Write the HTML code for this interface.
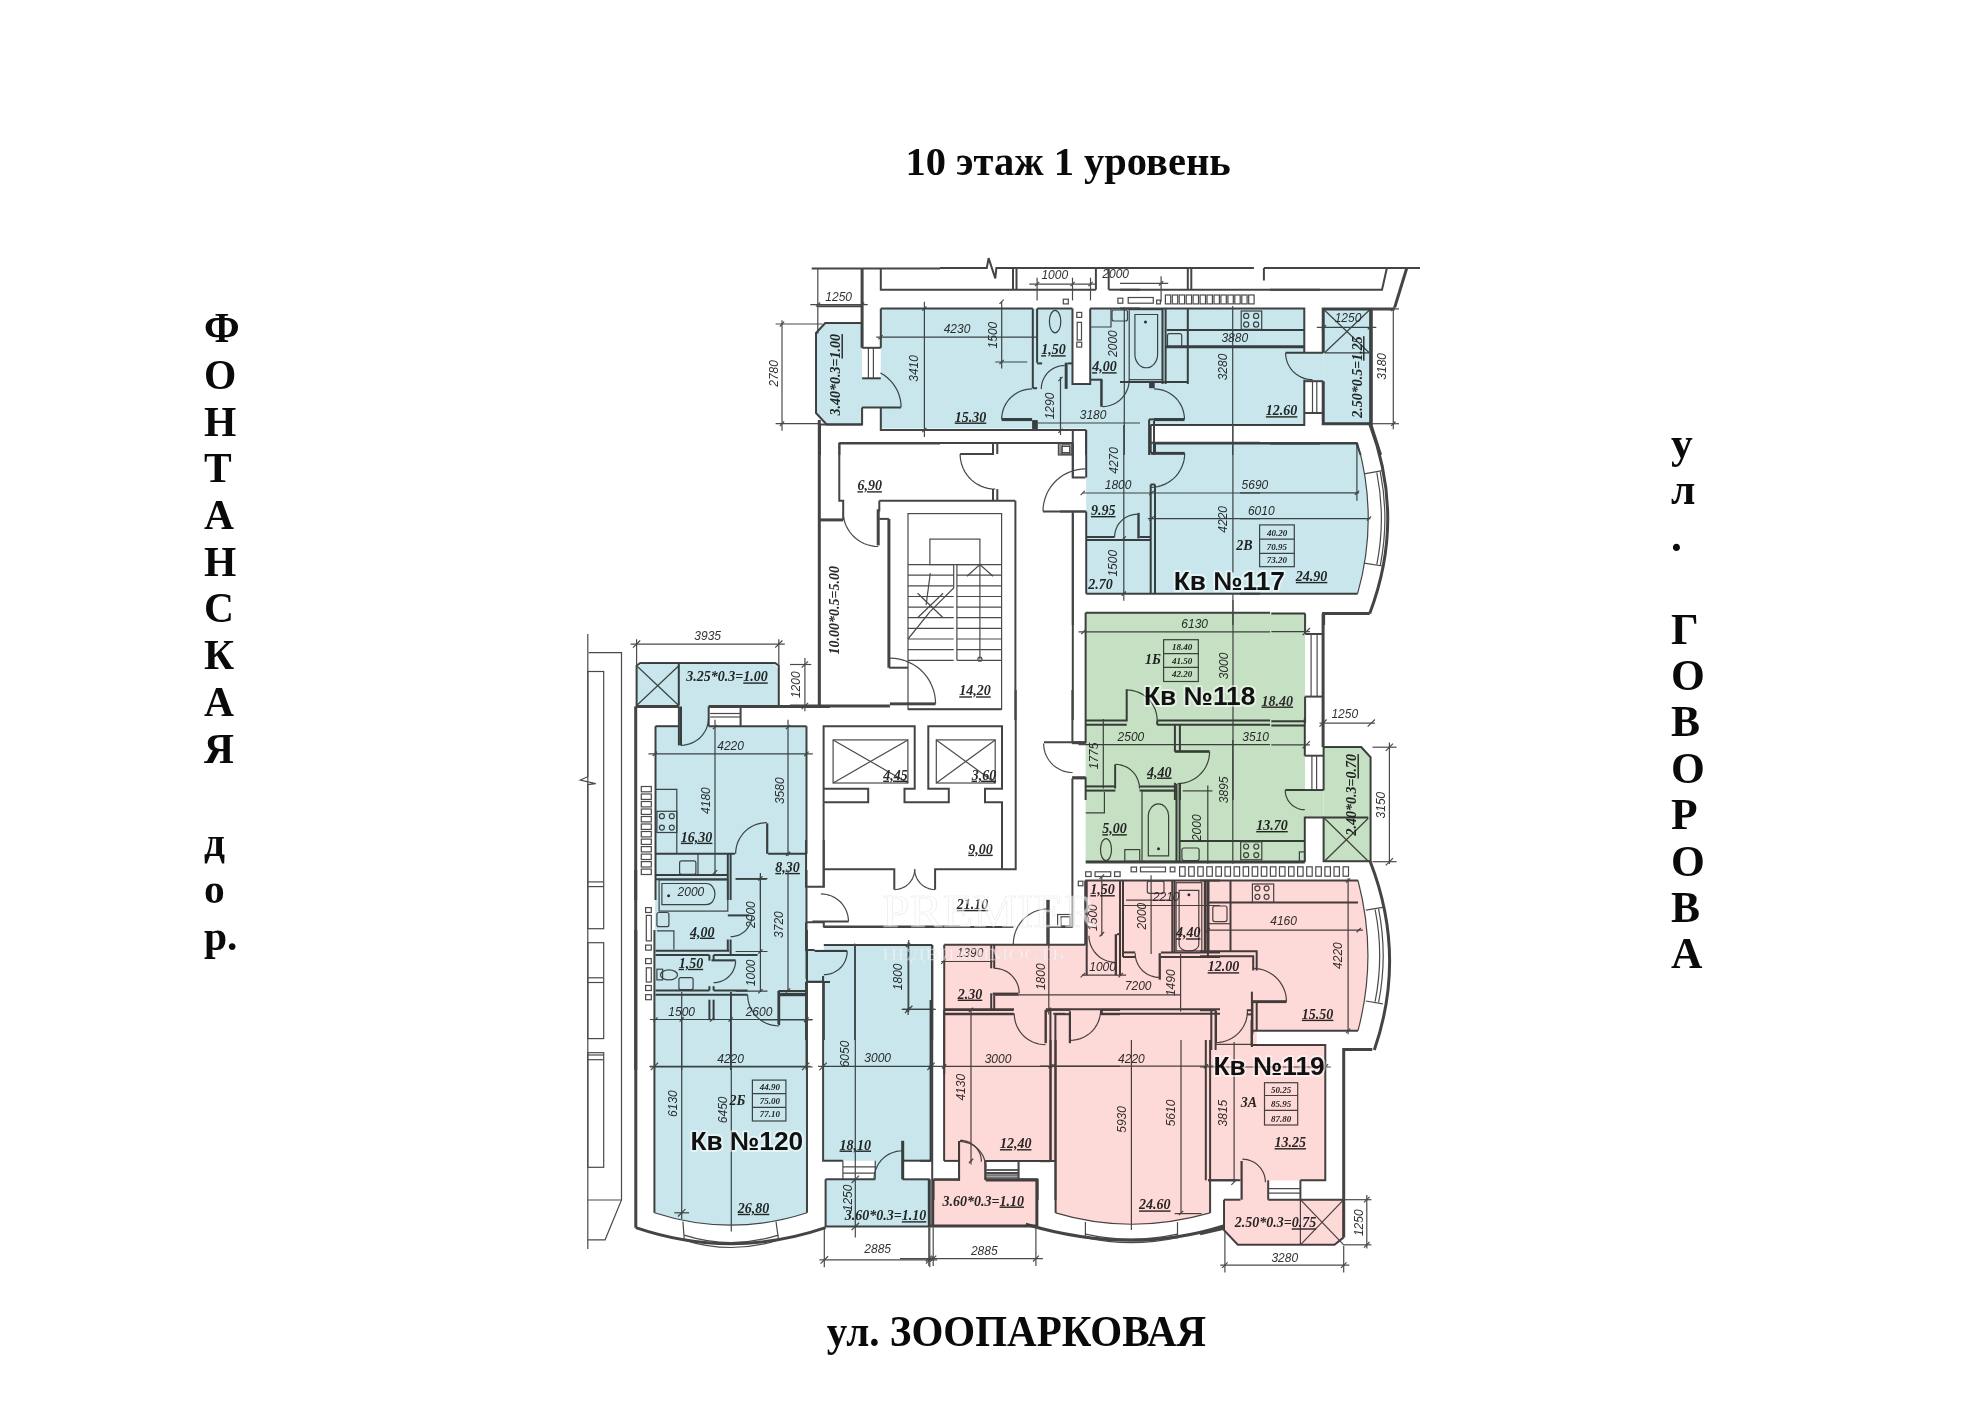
<!DOCTYPE html>
<html><head><meta charset="utf-8">
<style>
html,body{margin:0;padding:0;background:#fff;}
body{width:1980px;height:1411px;overflow:hidden;position:relative;}
svg{position:absolute;left:0;top:0;}
.ttl{font-family:"Liberation Serif",serif;font-weight:bold;fill:#0a0a0a;}
.w{stroke:#444;stroke-width:3;fill:none;}
.w2{stroke:#444;stroke-width:2;fill:none;}
.t{stroke:#4a4a4a;stroke-width:1.2;fill:none;}
.wf{fill:#444;}
.bl{fill:#c8e6eb;}
.gr{fill:#c6e0c4;}
.pk{fill:#fdd9d8;}
.n{font-family:"Liberation Sans",sans-serif;font-style:italic;font-size:12px;fill:#333;}
.a{font-family:"Liberation Serif",serif;font-style:italic;font-weight:bold;font-size:14px;fill:#2a2a2a;}
.bx{font-family:"Liberation Serif",serif;font-style:italic;font-weight:bold;font-size:9px;fill:#2a2a2a;}
.kv{font-family:"Liberation Sans",sans-serif;font-weight:bold;font-size:26.3px;fill:#111;paint-order:stroke;stroke:rgba(255,255,255,0.5);stroke-width:4px;stroke-linejoin:round;}
</style></head>
<body>
<svg width="1980" height="1411" viewBox="0 0 1980 1411">
<!-- TITLES -->
<text class="ttl" x="1068.1" y="175" font-size="40.5" text-anchor="middle">10 этаж 1 уровень</text>
<text class="ttl" transform="translate(1016.5,1345.7) scale(1,1.08)" x="0" y="0" font-size="41" text-anchor="middle">ул. ЗООПАРКОВАЯ</text>
<g class="ttl" font-size="41.5" text-anchor="start">
<text x="204" y="342">Ф</text><text x="204" y="389">О</text><text x="204" y="435.5">Н</text><text x="204" y="482.3">Т</text>
<text x="204" y="529">А</text><text x="204" y="575.7">Н</text><text x="204" y="622.4">С</text><text x="204" y="669">К</text>
<text x="204" y="715.8">А</text><text x="204" y="762.5">Я</text><text x="204" y="856">д</text><text x="204" y="902.8">о</text><text x="204" y="949.5">р.</text>
</g>
<g class="ttl" font-size="43.5" text-anchor="start">
<text x="1671" y="457.8">у</text><text x="1671" y="504.2">л</text><text x="1671" y="550.6">.</text>
<text x="1671" y="643.5">Г</text><text x="1671" y="689.9">О</text><text x="1671" y="736.3">В</text><text x="1671" y="782.7">О</text>
<text x="1671" y="829.1">Р</text><text x="1671" y="875.5">О</text><text x="1671" y="921.9">В</text><text x="1671" y="968.3">А</text>
</g>

<!-- 01_top_left.py -->
<polyline class="w2" points="811.7,268.5 940.0,268.5"/>
<polyline class="t" points="817.8,268.5 817.8,333.7"/>
<polyline class="w" points="862.1,268.5 862.1,347.8"/>
<polyline class="w2" points="862.1,347.8 880.8,347.8"/>
<polyline class="w2" points="862.1,378.3 880.8,378.3"/>
<polyline class="t" points="868.4,347.8 868.4,378.3"/>
<polyline class="t" points="873.4,347.8 873.4,378.3"/>
<polyline class="w2" points="862.1,407.4 862.1,424.4 826.6,424.4 816.0,413.0 816.0,333.0 825.2,323.0 862.1,323.0"/>
<polyline class="w2" points="862.1,407.4 901.0,407.4"/>
<polyline class="t" points="901.1,407.4 900.9,403.2 900.2,399.0 899.1,395.0 897.5,391.0 895.5,387.3 893.2,383.8 890.4,380.6 887.4,377.7 884.0,375.1 880.4,373.0"/>
<polyline class="w" points="819.5,424.4 819.5,455.0"/>
<polyline class="w2" points="819.5,424.4 862.1,424.4"/>
<polyline class="t" points="782.0,320.2 782.0,430.8"/>
<polyline class="t" points="775.6,324.0 822.4,324.0"/>
<polyline class="t" points="775.6,423.7 819.5,423.7"/>
<polyline class="t" points="779.8,326.6 784.1,321.6"/>
<polyline class="t" points="779.8,426.2 784.1,421.3"/>
<text class="n" x="778.1" y="373.4" text-anchor="middle" transform="rotate(-90 778.1 373.4)">2780</text>
<polyline class="t" points="810.3,304.6 867.7,304.6"/>
<polyline class="w2" points="817.8,306.3 862.1,306.3"/>
<polyline class="t" points="816.0,306.7 820.2,302.5"/>
<polyline class="t" points="859.9,306.7 864.2,302.5"/>
<text class="n" x="838.7" y="300.6" text-anchor="middle">1250</text>
<polyline class="w2" points="880.8,268.5 880.8,289.7 940.0,289.7"/>
<polyline class="w2" points="880.8,308.6 880.8,347.8"/>
<polyline class="w2" points="880.8,407.4 880.8,430.1 940.0,430.1"/>
<polyline class="w2" points="880.8,308.6 940.0,308.6"/>
<polyline class="w2" points="839.4,455.0 839.4,443.5 940.0,443.5"/>
<polyline class="t" points="924.4,301.8 924.4,437.1"/>
<polyline class="t" points="922.3,432.2 926.5,427.9"/>
<polyline class="t" points="922.3,310.7 926.5,306.5"/>
<text class="n" x="918.5" y="368.4" text-anchor="middle" transform="rotate(-90 918.5 368.4)">3410</text>
<polyline class="t" points="876.2,337.2 940.0,337.2"/>
<polyline class="t" points="878.4,339.3 882.6,335.1"/>
<text class="a" x="840.5" y="374.8" text-anchor="middle" transform="rotate(-90 840.5 374.8)">3.40*0.3=<tspan text-decoration="underline">1.00</tspan></text>
<!-- 02_top_mid.py -->
<polyline class="w2" points="940.0,268.0 986.8,268.0 988.6,258.1 995.3,278.4 996.4,268.0 1140.0,268.0"/>
<polyline class="w2" points="1013.0,268.0 1013.0,289.7"/>
<polyline class="w2" points="1016.5,268.0 1016.5,289.7"/>
<polyline class="w2" points="940.0,289.7 1095.9,289.7"/>
<polyline class="w2" points="1095.9,268.0 1095.9,289.7"/>
<polyline class="w2" points="1108.7,268.0 1108.7,289.7"/>
<polyline class="w2" points="1108.7,289.7 1140.0,289.7"/>
<polyline class="t" points="1029.3,284.1 1095.9,284.1"/>
<polyline class="t" points="1037.1,277.7 1037.1,300.4"/>
<polyline class="t" points="1072.5,277.7 1072.5,300.4"/>
<polyline class="t" points="1090.5,277.7 1090.5,300.4"/>
<polyline class="t" points="1035.0,286.2 1039.2,281.9"/>
<polyline class="t" points="1070.4,286.2 1074.7,281.9"/>
<polyline class="t" points="1088.4,286.2 1092.7,281.9"/>
<text class="n" x="1054.8" y="279.4" text-anchor="middle">1000</text>
<rect class="t" x="1063.3" y="299.2" width="5.0" height="4.7"/>
<polyline class="w2" points="1032.8,308.6 1032.8,388.2"/>
<polyline class="w2" points="1037.1,308.6 1037.1,362.7"/>
<polyline class="w2" points="1032.8,388.2 1037.1,388.2"/>
<polyline class="w2" points="1037.1,308.6 1072.5,308.6"/>
<polyline class="w2" points="1072.5,308.6 1072.5,384.0 1090.2,384.0 1090.2,308.6"/>
<rect class="t" x="1076.8" y="312.4" width="4.9" height="5.0"/>
<rect class="t" x="1077.2" y="322.3" width="4.3" height="17.7"/>
<rect class="t" x="1076.8" y="342.2" width="4.9" height="4.9"/>
<polyline class="t" points="1041.3,388.9 1041.4,386.5 1041.8,384.0 1042.4,381.7 1043.3,379.4 1044.4,377.2 1045.8,375.1 1047.3,373.2 1049.0,371.5 1050.9,370.0 1053.0,368.6 1055.2,367.5 1057.5,366.6 1059.8,366.0 1062.3,365.6 1064.7,365.5"/>
<rect class="wf" x="1064.7" y="362.7" width="2.9" height="26.2"/>
<polyline class="w2" points="1037.1,363.4 1042.1,363.4"/>
<polyline class="w2" points="1067.6,363.4 1072.5,363.4"/>
<ellipse class="t" cx="1055.1" cy="321.6" rx="5.7" ry="11.3"/>
<polyline class="t" points="1001.6,419.4 1001.8,416.2 1002.3,413.1 1003.1,410.0 1004.2,407.0 1005.7,404.1 1007.4,401.5 1009.4,399.0 1011.7,396.7 1014.2,394.7 1016.8,393.0 1019.7,391.5 1022.7,390.4 1025.8,389.6 1028.9,389.1 1032.1,388.9"/>
<rect class="wf" x="1001.7" y="418.0" width="30.4" height="3.1"/>
<rect class="wf" x="1032.1" y="420.1" width="5.7" height="10.0"/>
<polyline class="w2" points="1086.0,430.1 1086.0,455.0"/>
<polyline class="t" points="1037.8,423.0 1140.0,423.0"/>
<polyline class="t" points="1001.7,301.8 1001.7,368.4"/>
<polyline class="t" points="995.3,362.0 1027.2,362.0"/>
<polyline class="t" points="999.5,303.9 1003.8,299.6"/>
<polyline class="t" points="999.5,364.1 1003.8,359.9"/>
<text class="n" x="997.4" y="335.1" text-anchor="middle" transform="rotate(-90 997.4 335.1)">1500</text>
<polyline class="t" points="1060.5,376.9 1060.5,435.0"/>
<polyline class="t" points="1058.4,432.9 1062.6,428.6"/>
<polyline class="t" points="1058.4,381.2 1062.6,376.9"/>
<text class="n" x="1053.8" y="406.0" text-anchor="middle" transform="rotate(-90 1053.8 406.0)">1290</text>
<text class="n" x="1093.1" y="419.4" text-anchor="middle">3180</text>
<polyline class="t" points="1124.3,307.4 1124.3,455.0"/>
<text class="n" x="957.0" y="332.7" text-anchor="middle">4230</text>
<text class="a" x="1053.4" y="354.2" text-anchor="middle"><tspan text-decoration="underline">1,50</tspan></text>
<text class="a" x="1104.4" y="371.2" text-anchor="middle"><tspan text-decoration="underline">4,00</tspan></text>
<text class="a" x="970.5" y="421.5" text-anchor="middle"><tspan text-decoration="underline">15.30</tspan></text>
<text class="n" x="1117.2" y="343.6" text-anchor="middle" transform="rotate(-90 1117.2 343.6)">2000</text>
<polyline class="w2" points="1090.2,379.7 1102.3,379.7"/>
<rect class="wf" x="1100.2" y="379.7" width="2.5" height="27.0"/>
<polyline class="t" points="1102.3,406.6 1105.1,406.5 1107.9,406.0 1110.6,405.3 1113.2,404.3 1115.8,403.0 1118.1,401.5 1120.3,399.7 1122.3,397.7 1124.1,395.5 1125.6,393.1 1126.9,390.6 1127.9,388.0 1128.6,385.3 1129.1,382.5 1129.2,379.7"/>
<rect class="t" x="1058.4" y="443.5" width="14.1" height="11.5"/>
<rect class="t" x="1061.9" y="446.4" width="7.8" height="7.7"/>
<polyline class="w2" points="1072.5,443.5 1072.5,455.0"/>
<polyline class="w2" points="940.0,308.6 1032.8,308.6"/>
<polyline class="w2" points="940.0,430.1 1086.0,430.1"/>
<polyline class="t" points="940.0,337.2 1037.8,337.2"/>
<polyline class="w2" points="1090.2,308.6 1140.0,308.6"/>
<!-- 03_top_right.py -->
<polyline class="w2" points="1120.0,268.0 1253.9,268.0"/>
<polyline class="w2" points="1263.9,268.0 1320.0,268.0"/>
<polyline class="w2" points="1263.9,268.0 1263.9,280.5"/>
<polyline class="w2" points="1187.8,268.0 1187.8,289.7"/>
<polyline class="w2" points="1191.3,268.0 1191.3,289.7"/>
<polyline class="w2" points="1120.0,289.7 1320.0,289.7"/>
<polyline class="t" points="1120.0,283.3 1168.2,283.3"/>
<polyline class="t" points="1161.1,276.3 1161.1,301.8"/>
<polyline class="t" points="1159.0,285.5 1163.2,281.2"/>
<text class="n" x="1115.7" y="278.4" text-anchor="middle">2000</text>
<rect class="t" x="1165.4" y="295.0" width="5.3" height="8.9"/>
<rect class="t" x="1172.3" y="295.0" width="5.4" height="8.9"/>
<rect class="t" x="1179.2" y="295.0" width="5.4" height="8.9"/>
<rect class="t" x="1186.2" y="295.0" width="5.4" height="8.9"/>
<rect class="t" x="1193.1" y="295.0" width="5.4" height="8.9"/>
<rect class="t" x="1200.1" y="295.0" width="5.4" height="8.9"/>
<rect class="t" x="1207.0" y="295.0" width="5.4" height="8.9"/>
<rect class="t" x="1214.0" y="295.0" width="5.4" height="8.9"/>
<rect class="t" x="1220.9" y="295.0" width="5.4" height="8.9"/>
<rect class="t" x="1227.9" y="295.0" width="5.4" height="8.9"/>
<rect class="t" x="1234.8" y="295.0" width="5.4" height="8.9"/>
<rect class="t" x="1241.8" y="295.0" width="5.3" height="8.9"/>
<rect class="t" x="1248.7" y="295.0" width="5.4" height="8.9"/>
<rect class="t" x="1128.2" y="297.5" width="25.1" height="5.7"/>
<rect class="t" x="1117.9" y="298.2" width="4.9" height="5.0"/>
<rect class="t" x="1156.6" y="300.1" width="3.8" height="3.8"/>
<polyline class="w2" points="1120.0,308.6 1304.3,308.6 1304.3,352.8"/>
<polyline class="w2" points="1304.3,379.7 1304.3,425.1 1150.5,425.1"/>
<polyline class="w2" points="1166.8,330.1 1304.3,330.1"/>
<polyline class="w" points="1165.4,346.8 1304.3,346.8"/>
<polyline class="w2" points="1187.8,308.6 1187.8,384.0"/>
<rect class="t" x="1241.2" y="311.0" width="20.5" height="18.4"/>
<circle class="t" cx="1246.2" cy="315.9" r="2.6"/>
<circle class="t" cx="1256.1" cy="315.9" r="2.6"/>
<circle class="t" cx="1246.2" cy="324.5" r="2.6"/>
<circle class="t" cx="1256.1" cy="324.5" r="2.6"/>
<rect class="t" x="1167.5" y="333.7" width="14.2" height="13.5" rx="2"/>
<rect class="t" x="1129.2" y="309.6" width="33.3" height="70.1"/>
<path class="t" d="M1134.9,314.5 L1157.6,314.5 L1157.6,354.2 A11.3,13.5 0 0 1 1134.9,354.2 Z"/>
<circle cx="1145.5" cy="321.9" r="1.5" fill="#333"/>
<polyline class="w2" points="1162.5,308.6 1162.5,384.0"/>
<polyline class="w2" points="1165.6,308.6 1165.6,384.0"/>
<polyline class="w2" points="1120.0,381.9 1187.8,381.9"/>
<rect class="wf" x="1149.1" y="381.9" width="5.6" height="6.3"/>
<polyline class="t" points="1154.0,388.9 1157.2,389.1 1160.3,389.6 1163.4,390.4 1166.4,391.5 1169.2,393.0 1171.9,394.7 1174.4,396.7 1176.7,399.0 1178.7,401.5 1180.4,404.1 1181.9,407.0 1183.0,410.0 1183.8,413.1 1184.3,416.2 1184.5,419.4"/>
<rect class="wf" x="1154.0" y="418.0" width="30.5" height="3.1"/>
<polyline class="w2" points="1149.1,419.4 1149.1,455.0"/>
<polyline class="w2" points="1154.0,421.1 1154.0,455.0"/>
<polyline class="w2" points="1149.1,419.4 1154.0,419.4"/>
<polyline class="w2" points="1154.0,443.5 1320.0,443.5"/>
<polyline class="t" points="1232.7,306.0 1232.7,455.0"/>
<text class="n" x="1234.8" y="341.7" text-anchor="middle">3880</text>
<text class="n" x="1226.6" y="367.0" text-anchor="middle" transform="rotate(-90 1226.6 367.0)">3280</text>
<text class="a" x="1281.6" y="415.2" text-anchor="middle"><tspan text-decoration="underline">12.60</tspan></text>
<rect class="t" x="1112" y="310" width="15.5" height="11" rx="2"/>
<polyline class="t" points="1091,327 1111,327 1111,309"/>
<!-- 04_top_far.py -->
<polyline class="w2" points="1270.0,289.7 1382.0,289.7 1386.9,268.0"/>
<polyline class="w" points="1406.8,268.0 1394.7,307.4"/>
<polyline class="w" points="1394.7,308.9 1323.2,308.9 1323.2,352.8"/>
<polyline class="w" points="1323.2,381.2 1323.2,423.7 1371.3,423.7 1371.3,308.9"/>
<rect class="wf" x="1369.2" y="308.9" width="2.6" height="114.8"/>
<polyline class="t" points="1324.6,310.3 1369.2,352.8"/>
<polyline class="t" points="1369.2,310.3 1324.6,352.8"/>
<polyline class="t" points="1324.6,352.8 1369.2,352.8"/>
<polyline class="w2" points="1285.6,352.8 1323.2,352.8"/>
<polyline class="t" points="1285.6,352.8 1285.7,355.6 1286.2,358.4 1286.9,361.1 1287.9,363.7 1289.2,366.2 1290.7,368.6 1292.5,370.8 1294.5,372.8 1296.7,374.6 1299.0,376.1 1301.6,377.4 1304.2,378.4 1306.9,379.1 1309.7,379.6 1312.5,379.7"/>
<polyline class="t" points="1312.5,381.2 1312.5,413.0"/>
<polyline class="t" points="1316.8,381.2 1316.8,413.0"/>
<polyline class="w2" points="1304.7,381.2 1323.2,381.2"/>
<polyline class="w2" points="1304.7,413.0 1323.2,413.0"/>
<polyline class="t" points="1316.8,327.3 1376.3,327.3"/>
<polyline class="t" points="1321.7,329.4 1326.0,325.2"/>
<polyline class="t" points="1367.8,329.4 1372.1,325.2"/>
<text class="n" x="1348.0" y="321.6" text-anchor="middle">1250</text>
<text class="a" x="1362.1" y="376.9" text-anchor="middle" transform="rotate(-90 1362.1 376.9)">2.50*0.5=<tspan text-decoration="underline">1.25</tspan></text>
<polyline class="t" points="1393.3,307.4 1393.3,429.3"/>
<polyline class="t" points="1371.3,308.9 1399.0,308.9"/>
<polyline class="t" points="1371.3,423.7 1399.0,423.7"/>
<polyline class="t" points="1391.2,311.0 1395.4,306.7"/>
<polyline class="t" points="1391.2,425.8 1395.4,421.5"/>
<text class="n" x="1385.9" y="366.3" text-anchor="middle" transform="rotate(-90 1385.9 366.3)">3180</text>
<polyline class="w" points="1370.6,423.7 1380.6,455.0"/>
<polyline class="w2" points="1270.0,443.5 1356.5,443.5 1360.7,455.0"/>
<polyline class="w2" points="1270.0,268.0 1420.0,268.0"/>
<!-- 05_mid_top.py -->
<polyline class="w2" points="1086.2,430.0 1086.2,477.4"/>
<polyline class="w2" points="1072.8,430.0 1086.2,430.0"/>
<polyline class="w2" points="1072.8,430.0 1072.8,477.4"/>
<polyline class="w2" points="1060.0,511.5 1086.2,511.5"/>
<polyline class="w2" points="1072.8,511.5 1072.8,625.0"/>
<polyline class="w2" points="1086.2,511.5 1086.2,593.7"/>
<rect class="t" x="1060.0" y="442.7" width="12.0" height="11.4"/>
<rect class="t" x="1062.1" y="444.8" width="7.8" height="7.8"/>
<polyline class="w2" points="1150.7,425.0 1150.7,453.3"/>
<polyline class="w2" points="1155.0,442.7 1155.0,453.3"/>
<polyline class="w2" points="1150.7,442.7 1260.0,442.7"/>
<rect class="wf" x="1150.7" y="451.9" width="34.0" height="2.9"/>
<polyline class="t" points="1184.7,453.3 1184.5,456.9 1184.0,460.4 1183.0,463.8 1181.8,467.1 1180.1,470.3 1178.2,473.3 1176.0,476.1 1173.5,478.6 1170.7,480.8 1167.7,482.7 1164.5,484.4 1161.2,485.6 1157.8,486.6 1154.3,487.1 1150.7,487.3"/>
<polyline class="w2" points="1150.7,484.5 1150.7,593.7"/>
<polyline class="w2" points="1155.0,484.5 1155.0,593.7"/>
<polyline class="w2" points="1150.7,484.5 1155.0,484.5"/>
<polyline class="t" points="1082.7,493.0 1260.0,493.0"/>
<polyline class="t" points="1147.9,518.6 1260.0,518.6"/>
<polyline class="t" points="1080.6,495.2 1084.8,490.9"/>
<polyline class="t" points="1149.3,495.2 1153.6,490.9"/>
<polyline class="t" points="1149.3,520.7 1153.6,516.4"/>
<polyline class="w2" points="1086.2,537.0 1114.6,537.0"/>
<polyline class="w2" points="1086.2,540.1 1150.7,540.1"/>
<polyline class="w2" points="1139.4,537.0 1150.7,537.0"/>
<rect class="wf" x="1137.3" y="512.9" width="2.4" height="25.5"/>
<polyline class="t" points="1114.6,537.0 1114.7,534.6 1115.1,532.3 1115.7,530.0 1116.6,527.8 1117.6,525.6 1118.9,523.7 1120.4,521.8 1122.1,520.1 1124.0,518.6 1126.0,517.3 1128.1,516.3 1130.3,515.4 1132.6,514.8 1134.9,514.4 1137.3,514.3"/>
<polyline class="w2" points="1086.2,593.7 1260.0,593.7"/>
<polyline class="t" points="1123.8,425.0 1123.8,600.8"/>
<polyline class="t" points="1121.7,540.5 1125.9,536.3"/>
<polyline class="t" points="1121.7,595.8 1125.9,591.5"/>
<polyline class="t" points="1232.9,425.0 1232.9,572.4"/>
<polyline class="t" points="1232.9,593.7 1232.9,625.0"/>
<text class="n" x="1118.4" y="460.4" text-anchor="middle" transform="rotate(-90 1118.4 460.4)">4270</text>
<text class="n" x="1118.1" y="488.8" text-anchor="middle">1800</text>
<text class="a" x="1103.2" y="515.0" text-anchor="middle"><tspan text-decoration="underline">9.95</tspan></text>
<text class="n" x="1117.0" y="563.2" text-anchor="middle" transform="rotate(-90 1117.0 563.2)">1500</text>
<text class="a" x="1100.4" y="589.4" text-anchor="middle">2.70</text>
<text class="n" x="1227.3" y="519.3" text-anchor="middle" transform="rotate(-90 1227.3 519.3)">4220</text>
<text class="a" x="1244.3" y="549.7" text-anchor="middle" font-size="15">2B</text>
<!-- 06_mid_top_r.py -->
<path class="t" d="M1357.6,443.1 Q1378.9,518.4 1357.6,593.7"/>
<path class="w" d="M1369.7,423.6 Q1405.8,518.6 1369.7,613.5"/>
<polyline class="w" points="1369.7,613.5 1323.6,613.5 1323.6,625.0"/>
<polyline class="t" points="1240.0,492.8 1359.1,492.8"/>
<polyline class="t" points="1356.9,444.8 1356.9,500.8"/>
<polyline class="t" points="1354.8,494.9 1359.1,490.6"/>
<polyline class="t" points="1240.0,518.6 1370.4,518.6"/>
<polyline class="t" points="1366.9,520.7 1371.1,516.4"/>
<text class="n" x="1254.9" y="489.1" text-anchor="middle">5690</text>
<text class="n" x="1261.3" y="515.0" text-anchor="middle">6010</text>
<path class="t" d="M1376.8,472.5 Q1386.0,518.6 1376.8,564.6"/>
<path class="t" d="M1380.3,471.8 Q1389.5,518.6 1380.3,565.3"/>
<polyline class="t" points="1364.0,473.9 1382.5,470.6"/>
<polyline class="t" points="1364.0,563.2 1382.5,566.0"/>
<rect class="t" x="1259.6" y="524.9" width="34.7" height="41.8"/>
<polyline class="t" points="1259.6,539.1 1294.3,539.1"/>
<polyline class="t" points="1259.6,553.3 1294.3,553.3"/>
<text class="bx" x="1277.1" y="535.8" text-anchor="middle" font-size="9">40.20</text>
<text class="bx" x="1276.9" y="549.7" text-anchor="middle" font-size="9">70.95</text>
<text class="bx" x="1276.9" y="563.2" text-anchor="middle" font-size="9">73.20</text>
<text class="a" x="1311.6" y="580.9" text-anchor="middle"><tspan text-decoration="underline">24.90</tspan></text>
<polyline class="w2" points="1240.0,443.1 1357.6,443.1"/>
<polyline class="w2" points="1240.0,593.7 1357.6,593.7"/>
<!-- 07_stair.py -->
<polyline class="w" points="819.3,420.0 819.3,706.0"/>
<polyline class="w" points="819.3,519.9 843.2,519.9"/>
<polyline class="w2" points="839.3,443.0 1072.8,443.0"/>
<polyline class="w2" points="839.3,443.0 839.3,500.8 843.2,500.8 843.2,519.9"/>
<rect class="wf" x="876.7" y="509.3" width="3.0" height="36.1"/>
<polyline class="t" points="843.1,511.4 843.3,515.1 843.9,518.7 844.8,522.2 846.1,525.7 847.8,528.9 849.8,532.0 852.1,534.9 854.7,537.5 857.6,539.8 860.7,541.8 863.9,543.5 867.4,544.8 870.9,545.7 874.5,546.3 878.2,546.5"/>
<polyline class="w2" points="879.3,500.8 1015.4,500.8"/>
<polyline class="w2" points="879.3,500.8 879.3,511.4"/>
<polyline class="w2" points="1015.4,500.8 1015.4,720.0"/>
<polyline class="w" points="888.9,518.9 888.9,667.7"/>
<polyline class="w2" points="879.3,518.9 888.9,518.9"/>
<polyline class="w2" points="888.9,667.7 908.0,667.7"/>
<rect class="t" x="908.0" y="513.6" width="93.6" height="195.6"/>
<rect class="t" x="929.9" y="539.1" width="50.0" height="25.5"/>
<polyline class="t" points="908.0,564.6 953.7,564.6"/>
<polyline class="t" points="956.9,564.6 1001.6,564.6"/>
<polyline class="t" points="908.0,575.2 953.7,575.2"/>
<polyline class="t" points="956.9,575.2 1001.6,575.2"/>
<polyline class="t" points="908.0,585.8 953.7,585.8"/>
<polyline class="t" points="956.9,585.8 1001.6,585.8"/>
<polyline class="t" points="908.0,596.5 953.7,596.5"/>
<polyline class="t" points="956.9,596.5 1001.6,596.5"/>
<polyline class="t" points="908.0,607.1 953.7,607.1"/>
<polyline class="t" points="956.9,607.1 1001.6,607.1"/>
<polyline class="t" points="908.0,617.7 953.7,617.7"/>
<polyline class="t" points="956.9,617.7 1001.6,617.7"/>
<polyline class="t" points="908.0,628.4 953.7,628.4"/>
<polyline class="t" points="956.9,628.4 1001.6,628.4"/>
<polyline class="t" points="908.0,639.0 953.7,639.0"/>
<polyline class="t" points="956.9,639.0 1001.6,639.0"/>
<polyline class="t" points="908.0,649.6 953.7,649.6"/>
<polyline class="t" points="956.9,649.6 1001.6,649.6"/>
<polyline class="t" points="908.0,660.3 953.7,660.3"/>
<polyline class="t" points="956.9,660.3 1001.6,660.3"/>
<polyline class="t" points="953.7,564.6 953.7,588.0 930.3,611.4"/>
<polyline class="t" points="956.9,564.6 956.9,660.3"/>
<polyline class="t" points="908.0,639.0 930.3,611.4"/>
<polyline class="t" points="979.9,564.6 979.9,659.2"/>
<circle class="t" cx="979.9" cy="659.2" r="2"/>
<polyline class="t" points="966.9,576.3 979.9,564.6 993.0,576.3"/>
<polyline class="t" points="917.6,593.3 943.1,617.7"/>
<polyline class="t" points="943.1,593.3 917.6,617.7"/>
<polyline class="t" points="926.1,605.0 930.3,573.1"/>
<polyline class="w2" points="908.0,709.2 1001.6,709.2"/>
<polyline class="t" points="889.9,658.1 894.7,658.4 899.4,659.1 904.0,660.3 908.5,662.1 912.8,664.2 916.8,666.8 920.5,669.8 923.9,673.2 926.9,676.9 929.5,680.9 931.6,685.2 933.4,689.7 934.6,694.3 935.3,699.0 935.6,703.8"/>
<rect class="wf" x="889.9" y="702.4" width="45.7" height="2.9"/>
<polyline class="w" points="790.0,706.0 889.9,706.0"/>
<polyline class="w2" points="993.0,443.0 993.0,454.0 960.1,454.0"/>
<polyline class="w2" points="997.3,443.0 997.3,454.0"/>
<polyline class="t" points="960.1,454.0 960.3,457.7 960.9,461.3 961.8,464.8 963.1,468.3 964.8,471.6 966.8,474.6 969.1,477.5 971.7,480.1 974.6,482.4 977.7,484.4 980.9,486.1 984.4,487.4 987.9,488.3 991.5,488.9 995.2,489.1"/>
<polyline class="w2" points="993.0,489.1 993.0,500.8"/>
<polyline class="w2" points="997.3,489.1 997.3,500.8"/>
<polyline class="w2" points="1072.8,443.0 1072.8,477.4 1085.5,477.4"/>
<polyline class="w2" points="1072.8,513.6 1072.8,720.0"/>
<polyline class="w2" points="1043.0,511.4 1085.5,511.4"/>
<polyline class="t" points="1043.0,511.4 1043.2,507.0 1043.9,502.6 1045.1,498.3 1046.7,494.1 1048.7,490.1 1051.1,486.4 1053.9,483.0 1057.1,479.8 1060.5,477.0 1064.2,474.6 1068.2,472.6 1072.4,471.0 1076.7,469.8 1081.1,469.1 1085.5,468.9"/>
<text class="a" x="838.9" y="610.3" text-anchor="middle" transform="rotate(-90 838.9 610.3)">10.00*0.5=5.00</text>
<text class="a" x="869.7" y="490.2" text-anchor="middle"><tspan text-decoration="underline">6,90</tspan></text>
<text class="a" x="975.0" y="695.3" text-anchor="middle"><tspan text-decoration="underline">14,20</tspan></text>
<polyline class="t" points="804.9,658.1 804.9,711.3"/>
<polyline class="t" points="790.0,664.5 811.3,664.5"/>
<polyline class="t" points="801.7,667.7 808.1,661.3"/>
<polyline class="t" points="801.7,709.2 808.1,702.8"/>
<text class="n" x="799.6" y="684.7" text-anchor="middle" transform="rotate(-90 799.6 684.7)">1200</text>
<!-- 08_core.py -->
<polyline class="w2" points="823.6,802.3 823.6,726.3 914.7,726.3 914.7,788.7 904.5,788.7 904.5,802.3 948.8,802.3 948.8,788.7 928.3,788.7 928.3,726.3 1002.0,726.3 1002.0,788.7 985.0,788.7 985.0,802.3 1002.0,802.3 1002.0,869.2"/>
<polyline class="w2" points="823.6,788.7 868.2,788.7 868.2,802.3 823.6,802.3"/>
<rect class="t" x="833.1" y="739.9" width="74.8" height="43.1"/>
<polyline class="t" points="833.1,739.9 907.9,783.0"/>
<polyline class="t" points="907.9,739.9 833.1,783.0"/>
<rect class="t" x="936.3" y="739.9" width="58.9" height="43.1"/>
<polyline class="t" points="936.3,739.9 995.2,783.0"/>
<polyline class="t" points="995.2,739.9 936.3,783.0"/>
<polyline class="w2" points="1015.7,690.0 1015.7,869.2 1002.0,869.2"/>
<polyline class="w2" points="823.6,802.3 823.6,887.3"/>
<polyline class="w2" points="823.6,869.2 894.3,869.2 894.3,889.6"/>
<polyline class="w2" points="935.1,889.6 935.1,869.2 1002.0,869.2"/>
<polyline class="t" points="894.3,889.6 896.4,889.5 898.5,889.2 900.6,888.6 902.6,887.8 904.5,886.9 906.3,885.7 908.0,884.4 909.5,882.9 910.8,881.2 912.0,879.4 912.9,877.5 913.7,875.5 914.3,873.4 914.6,871.3 914.7,869.2"/>
<polyline class="t" points="935.1,889.6 933.0,889.5 930.9,889.2 928.8,888.6 926.8,887.8 924.9,886.9 923.1,885.7 921.4,884.4 919.9,882.9 918.6,881.2 917.4,879.4 916.5,877.5 915.7,875.5 915.1,873.4 914.8,871.3 914.7,869.2"/>
<text class="a" x="895.5" y="779.6" text-anchor="middle"><tspan text-decoration="underline">4,45</tspan></text>
<text class="a" x="983.9" y="779.6" text-anchor="middle"><tspan text-decoration="underline">3,60</tspan></text>
<text class="a" x="980.5" y="853.7" text-anchor="middle"><tspan text-decoration="underline">9,00</tspan></text>
<text class="a" x="972.6" y="908.9" text-anchor="middle"><tspan text-decoration="underline">21.10</tspan></text>
<polyline class="w2" points="1072.4,690.0 1072.4,742.2 1086.0,742.2"/>
<polyline class="w2" points="1072.4,778.4 1086.0,778.4"/>
<polyline class="w2" points="1072.4,778.4 1072.4,927.0"/>
<polyline class="t" points="1043.6,743.5 1043.8,746.5 1044.2,749.5 1045.0,752.5 1046.1,755.3 1047.5,758.0 1049.1,760.5 1051.0,762.9 1053.2,765.1 1055.6,767.0 1058.1,768.6 1060.8,770.0 1063.6,771.1 1066.6,771.9 1069.6,772.3 1072.6,772.5"/>
<polyline class="w2" points="1044.0,742.2 1086.0,742.2"/>
<polyline class="w2" points="823.6,927.0 1013.4,927.0"/>
<polyline class="t" points="1013.3,944.0 1013.5,940.3 1014.1,936.7 1015.0,933.1 1016.3,929.7 1018.0,926.4 1020.0,923.3 1022.3,920.4 1024.9,917.8 1027.8,915.5 1030.9,913.5 1034.2,911.8 1037.6,910.5 1041.2,909.6 1044.8,909.0 1048.5,908.8"/>
<rect class="wf" x="1046.3" y="899.8" width="3.4" height="44.2"/>
<polyline class="w2" points="1048.5,927.0 1057.6,927.0"/>
<rect class="t" x="1057.6" y="914.5" width="14.8" height="12.5"/>
<rect class="t" x="1061.0" y="916.8" width="9.1" height="9.1"/>
<polyline class="w2" points="1057.6,927.0 1072.4,927.0"/>
<!-- 09_core_low.py -->
<polyline class="w2" points="806.1,840.0 806.1,886.8 823.8,886.8 823.8,840.0"/>
<polyline class="t" points="820.9,893.9 823.8,894.1 826.6,894.5 829.4,895.3 832.1,896.3 834.7,897.6 837.1,899.2 839.4,901.0 841.4,903.0 843.2,905.3 844.8,907.7 846.1,910.3 847.1,913.0 847.9,915.8 848.3,918.6 848.5,921.5"/>
<rect class="wf" x="812.4" y="920.5" width="36.2" height="2.0"/>
<polyline class="w2" points="806.1,922.2 806.1,949.9 814.6,949.9"/>
<polyline class="w2" points="806.1,922.2 823.8,922.2 823.8,926.5 960.0,926.5"/>
<polyline class="w2" points="823.8,944.9 932.2,944.9"/>
<polyline class="t" points="847.2,951.3 847.1,953.7 846.7,956.2 846.1,958.5 845.2,960.8 844.1,963.0 842.7,965.1 841.2,967.0 839.5,968.7 837.6,970.2 835.5,971.6 833.3,972.7 831.0,973.6 828.7,974.2 826.2,974.6 823.8,974.7"/>
<rect class="wf" x="814.6" y="949.9" width="32.6" height="2.1"/>
<polyline class="w2" points="806.1,981.7 806.1,1040.0"/>
<polyline class="w2" points="823.8,981.7 823.8,1040.0"/>
<polyline class="w2" points="806.1,981.7 823.8,981.7"/>
<polyline class="t" points="854.7,943.5 854.7,1040.0"/>
<polyline class="w2" points="932.2,944.9 932.2,1040.0"/>
<polyline class="t" points="908.1,942.1 908.1,1015.1"/>
<polyline class="t" points="901.7,1009.4 935.8,1009.4"/>
<polyline class="t" points="906.0,1011.5 910.2,1007.3"/>
<polyline class="t" points="906.0,947.0 910.2,942.8"/>
<text class="n" x="902.5" y="976.8" text-anchor="middle" transform="rotate(-90 902.5 976.8)">1800</text>
<polyline class="w2" points="778.4,991.0 806.1,991.0"/>
<polyline class="w2" points="778.4,995.2 806.1,995.2"/>
<polyline class="w2" points="778.4,991.0 778.4,1024.3"/>
<text class="a" x="787.6" y="871.9" text-anchor="middle"><tspan text-decoration="underline">8,30</tspan></text>
<polyline class="t" points="760.0,1020.0 812.4,1020.0"/>
<polyline class="t" points="803.9,1022.1 808.2,1017.9"/>
<!-- 10_green.py -->
<polyline class="w2" points="1085.6,612.8 1270.0,612.8"/>
<polyline class="w2" points="1085.6,612.8 1085.6,743.2"/>
<polyline class="w2" points="1085.6,777.2 1085.6,800.0"/>
<polyline class="w2" points="1072.1,743.2 1085.6,743.2"/>
<polyline class="w2" points="1072.1,777.2 1085.6,777.2"/>
<polyline class="t" points="1078.5,631.9 1270.0,631.9"/>
<polyline class="t" points="1081.3,634.0 1085.6,629.8"/>
<text class="n" x="1194.7" y="627.6" text-anchor="middle">6130</text>
<polyline class="t" points="1233.0,600.0 1233.0,800.0"/>
<rect class="t" x="1163.6" y="639.7" width="34.7" height="41.8"/>
<polyline class="t" points="1163.6,653.6 1198.3,653.6"/>
<polyline class="t" points="1163.6,667.3 1198.3,667.3"/>
<text class="bx" x="1182.0" y="650.3" text-anchor="middle" font-size="9">18.40</text>
<text class="bx" x="1182.0" y="663.8" text-anchor="middle" font-size="9">41.50</text>
<text class="bx" x="1182.0" y="677.3" text-anchor="middle" font-size="9">42.20</text>
<text class="a" x="1152.9" y="663.8" text-anchor="middle" font-size="15">1Б</text>
<text class="n" x="1228.0" y="665.9" text-anchor="middle" transform="rotate(-90 1228.0 665.9)">3000</text>
<polyline class="w2" points="1085.6,720.5 1126.7,720.5 1126.7,689.3"/>
<polyline class="w2" points="1085.6,724.7 1126.7,724.7"/>
<polyline class="w2" points="1157.2,720.5 1270.0,720.5"/>
<polyline class="w2" points="1157.2,724.7 1270.0,724.7"/>
<polyline class="w2" points="1157.2,720.5 1157.2,724.7"/>
<polyline class="t" points="1126.7,690.0 1129.9,690.2 1133.0,690.7 1136.1,691.5 1139.1,692.6 1142.0,694.1 1144.6,695.8 1147.1,697.8 1149.4,700.1 1151.4,702.6 1153.1,705.2 1154.6,708.1 1155.7,711.1 1156.5,714.2 1157.0,717.3 1157.2,720.5"/>
<polyline class="w2" points="1174.9,724.7 1174.9,751.7"/>
<polyline class="w2" points="1179.9,724.7 1179.9,751.7"/>
<rect class="wf" x="1174.9" y="750.2" width="34.7" height="2.6"/>
<polyline class="t" points="1209.6,751.7 1209.4,755.0 1208.9,758.3 1208.0,761.6 1206.8,764.7 1205.3,767.7 1203.5,770.5 1201.4,773.0 1199.0,775.4 1196.5,777.5 1193.7,779.3 1190.7,780.8 1187.6,782.0 1184.3,782.9 1181.0,783.4 1177.7,783.6"/>
<polyline class="w2" points="1174.9,782.8 1174.9,800.0"/>
<polyline class="w2" points="1179.9,782.8 1179.9,800.0"/>
<polyline class="t" points="1078.5,744.6 1270.0,744.6"/>
<text class="n" x="1130.9" y="741.0" text-anchor="middle">2500</text>
<text class="n" x="1255.7" y="741.0" text-anchor="middle">3510</text>
<polyline class="t" points="1103.3,719.1 1103.3,788.5"/>
<text class="n" x="1098.3" y="755.9" text-anchor="middle" transform="rotate(-90 1098.3 755.9)">1775</text>
<polyline class="w2" points="1085.6,786.4 1115.4,786.4"/>
<polyline class="w2" points="1085.6,790.6 1115.4,790.6"/>
<polyline class="w2" points="1139.5,786.4 1174.9,786.4"/>
<polyline class="w2" points="1139.5,790.6 1174.9,790.6"/>
<rect class="wf" x="1114.2" y="764.4" width="1.9" height="24.1"/>
<polyline class="t" points="1115.4,764.4 1117.9,764.5 1120.4,764.9 1122.8,765.6 1125.2,766.5 1127.5,767.6 1129.6,769.0 1131.5,770.6 1133.3,772.4 1134.9,774.3 1136.3,776.5 1137.4,778.7 1138.3,781.1 1139.0,783.5 1139.4,786.0 1139.5,788.5"/>
<text class="a" x="1159.3" y="776.5" text-anchor="middle"><tspan text-decoration="underline">4,40</tspan></text>
<text class="n" x="1228.0" y="789.9" text-anchor="middle" transform="rotate(-90 1228.0 789.9)">3895</text>
<!-- 11_green_low.py -->
<polyline class="w" points="1085.7,862.1 1304.8,862.1"/>
<polyline class="w2" points="1304.8,718.1 1304.8,755.7"/>
<polyline class="w2" points="1304.8,816.7 1304.8,862.1"/>
<polyline class="t" points="1311.9,755.7 1311.9,790.1"/>
<polyline class="t" points="1316.6,755.7 1316.6,790.1"/>
<polyline class="w2" points="1304.8,755.7 1323.6,755.7"/>
<polyline class="w2" points="1285.3,790.1 1323.6,790.1"/>
<polyline class="t" points="1285.2,790.1 1285.3,792.1 1285.6,794.2 1286.2,796.2 1286.9,798.1 1287.8,799.9 1288.9,801.6 1290.2,803.2 1291.7,804.7 1293.3,806.0 1295.0,807.1 1296.8,808.0 1298.7,808.7 1300.7,809.3 1302.8,809.6 1304.8,809.7"/>
<polyline class="w2" points="1323.6,747.0 1361.2,747.0 1370.6,757.2 1370.6,861.3 1323.6,861.3 1323.6,816.7"/>
<polyline class="w2" points="1323.6,747.0 1323.6,790.1"/>
<polyline class="w2" points="1304.8,817.5 1368.3,817.5"/>
<polyline class="t" points="1324.4,818.3 1368.3,861.3"/>
<polyline class="t" points="1368.3,818.3 1324.4,861.3"/>
<text class="a" x="1356.5" y="794.8" text-anchor="middle" transform="rotate(-90 1356.5 794.8)">2.40*0.3=<tspan text-decoration="underline">0.70</tspan></text>
<polyline class="w2" points="1179.6,841.0 1304.8,841.0"/>
<rect class="t" x="1240.7" y="841.8" width="21.1" height="18.0"/>
<circle class="t" cx="1246.1" cy="846.5" r="2.5"/>
<circle class="t" cx="1256.3" cy="846.5" r="2.5"/>
<circle class="t" cx="1246.1" cy="855.1" r="2.5"/>
<circle class="t" cx="1256.3" cy="855.1" r="2.5"/>
<rect class="t" x="1181.9" y="848.0" width="17.2" height="12.5" rx="2"/>
<rect class="t" x="1299.4" y="851.9" width="5.4" height="9.4"/>
<rect class="t" x="1142.0" y="790.9" width="34.5" height="70.4"/>
<path class="t" d="M1148.3,855.9 L1148.3,815.2 A10.2,12.5 0 0 1 1168.6,815.2 L1168.6,855.9 Z"/>
<circle cx="1158.5" cy="848.8" r="1.5" fill="#333"/>
<polyline class="w2" points="1176.5,783.8 1176.5,862.1"/>
<polyline class="w2" points="1179.6,783.8 1179.6,862.1"/>
<ellipse class="t" cx="1106.0" cy="849.6" rx="5.5" ry="11.0"/>
<rect class="t" x="1124.8" y="849.6" width="14.9" height="11.7"/>
<polyline class="t" points="1085.7,812.8 1104.4,812.8 1104.4,791.7"/>
<text class="a" x="1114.6" y="833.2" text-anchor="middle"><tspan text-decoration="underline">5,00</tspan></text>
<text class="a" x="1272.0" y="830.0" text-anchor="middle"><tspan text-decoration="underline">13.70</tspan></text>
<text class="n" x="1201.5" y="827.7" text-anchor="middle" transform="rotate(-90 1201.5 827.7)">2000</text>
<polyline class="t" points="1207.8,785.4 1207.8,863.7"/>
<polyline class="t" points="1182.7,790.9 1212.5,790.9"/>
<polyline class="t" points="1232.8,740.0 1232.8,863.7"/>
<rect class="t" x="1179.6" y="866.8" width="5.5" height="9.4"/>
<rect class="t" x="1188.7" y="866.8" width="5.5" height="9.4"/>
<rect class="t" x="1197.8" y="866.8" width="5.4" height="9.4"/>
<rect class="t" x="1206.8" y="866.8" width="5.5" height="9.4"/>
<rect class="t" x="1215.9" y="866.8" width="5.5" height="9.4"/>
<rect class="t" x="1225.0" y="866.8" width="5.5" height="9.4"/>
<rect class="t" x="1234.1" y="866.8" width="5.5" height="9.4"/>
<rect class="t" x="1243.2" y="866.8" width="5.4" height="9.4"/>
<rect class="t" x="1252.2" y="866.8" width="5.5" height="9.4"/>
<rect class="t" x="1261.3" y="866.8" width="5.5" height="9.4"/>
<rect class="t" x="1270.4" y="866.8" width="5.5" height="9.4"/>
<rect class="t" x="1279.5" y="866.8" width="5.5" height="9.4"/>
<rect class="t" x="1288.6" y="866.8" width="5.4" height="9.4"/>
<rect class="t" x="1297.6" y="866.8" width="5.5" height="9.4"/>
<rect class="t" x="1306.7" y="866.8" width="5.5" height="9.4"/>
<rect class="t" x="1315.8" y="866.8" width="5.5" height="9.4"/>
<rect class="t" x="1324.9" y="866.8" width="5.5" height="9.4"/>
<rect class="t" x="1334.0" y="866.8" width="5.4" height="9.4"/>
<rect class="t" x="1343.1" y="866.8" width="5.4" height="9.4"/>
<rect class="t" x="1131.1" y="867.1" width="5.4" height="4.7"/>
<rect class="t" x="1140.5" y="867.1" width="25.0" height="4.7"/>
<rect class="t" x="1170.2" y="867.1" width="4.7" height="4.7"/>
<rect class="t" x="1085.7" y="871.8" width="5.4" height="4.7"/>
<rect class="t" x="1095.1" y="871.8" width="15.6" height="4.7"/>
<rect class="t" x="1114.6" y="871.8" width="5.5" height="4.7"/>
<!-- 12_green_right.py -->
<polyline class="w2" points="1305.1,613.5 1305.1,634.0"/>
<polyline class="w2" points="1305.1,696.6 1305.1,723.1"/>
<polyline class="w2" points="1305.1,634.0 1323.1,634.0"/>
<polyline class="w2" points="1305.1,696.6 1323.1,696.6"/>
<polyline class="t" points="1311.1,634.0 1311.1,696.6"/>
<polyline class="t" points="1317.1,634.0 1317.1,696.6"/>
<polyline class="w" points="1323.1,613.5 1323.1,747.2"/>
<polyline class="w2" points="1271.3,613.5 1305.1,613.5"/>
<polyline class="t" points="1271.3,631.6 1309.9,631.6"/>
<polyline class="t" points="1302.7,635.2 1309.9,628.0"/>
<polyline class="w2" points="1271.3,721.2 1305.1,721.2"/>
<polyline class="w2" points="1271.3,725.5 1305.1,725.5"/>
<polyline class="t" points="1271.3,744.8 1309.9,744.8"/>
<polyline class="t" points="1302.7,748.4 1309.9,741.2"/>
<polyline class="t" points="1319.5,723.1 1374.9,723.1"/>
<polyline class="t" points="1367.7,726.7 1374.9,719.5"/>
<polyline class="t" points="1319.5,726.7 1326.7,719.5"/>
<text class="n" x="1344.8" y="718.3" text-anchor="middle">1250</text>
<polyline class="t" points="1389.4,742.4 1389.4,864.1"/>
<polyline class="t" points="1372.5,747.2 1396.6,747.2"/>
<polyline class="t" points="1372.5,861.7 1396.6,861.7"/>
<polyline class="t" points="1385.8,750.8 1393.0,743.6"/>
<polyline class="t" points="1385.8,865.3 1393.0,858.1"/>
<text class="n" x="1385.1" y="805.1" text-anchor="middle" transform="rotate(-90 1385.1 805.1)">3150</text>
<!-- 13_pink_top.py -->
<rect class="t" x="1078.3" y="881.2" width="4.6" height="4.6"/>
<polyline class="w2" points="1085.2,880.5 1220.0,880.5"/>
<polyline class="w2" points="1085.2,880.5 1085.2,944.8"/>
<polyline class="w2" points="1086.7,880.5 1086.7,975.2"/>
<polyline class="w2" points="1120.0,880.5 1120.0,975.2"/>
<polyline class="w2" points="1123.0,880.5 1123.0,957.0"/>
<rect class="wf" x="1114.7" y="934.2" width="2.3" height="41.0"/>
<polyline class="t" points="1115.5,962.3 1112.7,962.2 1110.0,961.7 1107.3,961.0 1104.7,960.0 1102.2,958.7 1099.9,957.2 1097.8,955.5 1095.8,953.5 1094.1,951.4 1092.6,949.0 1091.3,946.6 1090.3,944.0 1089.6,941.3 1089.1,938.6 1089.0,935.8"/>
<polyline class="w2" points="1117.0,934.2 1120.0,934.2"/>
<polyline class="w2" points="1123.0,952.4 1135.2,952.4"/>
<polyline class="w2" points="1123.0,957.0 1135.2,957.0"/>
<polyline class="w2" points="1160.9,952.4 1220.0,952.4"/>
<polyline class="w2" points="1160.9,957.0 1220.0,957.0"/>
<rect class="wf" x="1158.6" y="953.2" width="2.3" height="26.5"/>
<polyline class="t" points="1159.4,977.4 1156.9,977.3 1154.4,976.9 1151.9,976.2 1149.6,975.3 1147.3,974.2 1145.2,972.8 1143.2,971.2 1141.4,969.4 1139.8,967.4 1138.4,965.3 1137.3,963.0 1136.4,960.7 1135.7,958.2 1135.3,955.7 1135.2,953.2"/>
<rect class="t" x="1176.1" y="882.7" width="25.7" height="68.2"/>
<path class="t" d="M1179.1,944.8 L1179.1,890.3 L1198.8,890.3 L1198.8,944.8 A9.8,6.1 0 0 1 1179.1,944.8 Z"/>
<circle cx="1188.9" cy="894.8" r="1.5" fill="#333"/>
<polyline class="w2" points="1172.3,880.5 1172.3,952.4"/>
<polyline class="w2" points="1174.5,880.5 1174.5,952.4"/>
<polyline class="w2" points="1204.8,880.5 1204.8,952.4"/>
<polyline class="w2" points="1207.9,880.5 1207.9,957.0"/>
<rect class="t" x="1147.3" y="881.2" width="16.7" height="12.1" rx="2"/>
<polyline class="t" points="1126.1,900.2 1171.5,900.2"/>
<polyline class="t" points="1123.0,905.5 1220.0,905.5"/>
<polyline class="w2" points="944.2,944.8 1085.2,944.8"/>
<polyline class="w2" points="944.2,944.8 944.2,1073.8"/>
<polyline class="w2" points="991.2,944.8 991.2,968.3"/>
<polyline class="w2" points="994.2,944.8 994.2,968.3"/>
<polyline class="w2" points="991.2,993.3 991.2,1009.2"/>
<polyline class="w2" points="994.2,995.6 994.2,1009.2"/>
<rect class="wf" x="992.7" y="992.6" width="25.8" height="3.0"/>
<polyline class="t" points="994.2,968.3 996.8,968.4 999.4,968.8 1001.9,969.5 1004.4,970.5 1006.7,971.6 1008.9,973.1 1010.9,974.7 1012.8,976.6 1014.4,978.6 1015.9,980.8 1017.0,983.1 1018.0,985.6 1018.7,988.1 1019.1,990.7 1019.2,993.3"/>
<polyline class="w2" points="944.2,1009.2 1013.9,1009.2"/>
<polyline class="w2" points="944.2,1013.8 1013.9,1013.8"/>
<polyline class="w2" points="1045.8,1009.2 1220.0,1009.2"/>
<polyline class="w2" points="1053.3,1013.8 1065.5,1013.8"/>
<polyline class="w2" points="1101.8,1009.2 1101.8,1013.8 1220.0,1013.8"/>
<polyline class="t" points="1048.8,944.8 1048.8,1014.5"/>
<polyline class="t" points="1046.5,1012.3 1051.1,1007.7"/>
<text class="n" x="1045.5" y="976.7" text-anchor="middle" transform="rotate(-90 1045.5 976.7)">1800</text>
<polyline class="t" points="1082.1,975.2 1126.1,975.2"/>
<polyline class="t" points="1080.6,977.4 1085.2,972.9"/>
<polyline class="t" points="1118.5,977.4 1123.0,972.9"/>
<text class="n" x="1102.6" y="971.4" text-anchor="middle">1000</text>
<text class="n" x="1138.2" y="990.3" text-anchor="middle">7200</text>
<polyline class="t" points="1180.6,953.9 1180.6,1011.5"/>
<text class="n" x="1175.3" y="982.7" text-anchor="middle" transform="rotate(-90 1175.3 982.7)">1490</text>
<polyline class="t" points="994.2,994.8 1180.6,994.8"/>
<text class="n" x="1097.3" y="917.6" text-anchor="middle" transform="rotate(-90 1097.3 917.6)">1500</text>
<polyline class="t" points="1101.8,876.7 1101.8,935.8"/>
<polyline class="t" points="1099.5,878.9 1104.1,874.4"/>
<polyline class="t" points="1099.5,936.5 1104.1,932.0"/>
<text class="n" x="1146.5" y="916.1" text-anchor="middle" transform="rotate(-90 1146.5 916.1)">2000</text>
<polyline class="t" points="1151.1,875.2 1151.1,953.9"/>
<text class="n" x="1166.2" y="900.9" text-anchor="middle">2210</text>
<text class="a" x="1102.6" y="894.1" text-anchor="middle"><tspan text-decoration="underline">1,50</tspan></text>
<text class="a" x="1188.2" y="937.3" text-anchor="middle"><tspan text-decoration="underline">4,40</tspan></text>
<text class="a" x="970.0" y="998.6" text-anchor="middle"><tspan text-decoration="underline">2.30</tspan></text>
<text class="n" x="970.0" y="957.0" text-anchor="middle">1390</text>
<polyline class="t" points="941.2,961.5 992.7,961.5"/>
<polyline class="t" points="941.2,963.8 945.8,959.2"/>
<!-- 14_pink_kitchen.py -->
<polyline class="w2" points="1200.0,880.5 1358.0,880.5"/>
<path class="t" d="M1358.0,880.5 Q1377.9,955.6 1358.0,1030.7"/>
<path class="w" d="M1370.1,861.3 Q1406.9,955.6 1374.3,1050.0"/>
<path class="t" d="M1375.1,909.5 Q1384.3,955.6 1375.1,1001.7"/>
<path class="t" d="M1378.6,908.8 Q1387.8,955.6 1378.6,1002.4"/>
<polyline class="t" points="1365.8,910.2 1382.8,907.4"/>
<polyline class="t" points="1365.8,1001.0 1382.8,1003.8"/>
<polyline class="w2" points="1252.4,1030.7 1358.0,1030.7"/>
<polyline class="w2" points="1207.1,902.4 1358.0,902.4"/>
<polyline class="t" points="1207.1,930.1 1363.0,930.1"/>
<polyline class="t" points="1356.6,932.2 1360.9,928.0"/>
<polyline class="t" points="1205.7,932.2 1209.9,928.0"/>
<polyline class="w2" points="1230.5,880.5 1230.5,951.3"/>
<rect class="t" x="1252.4" y="884.0" width="21.3" height="18.4"/>
<circle class="t" cx="1257.4" cy="888.3" r="2.5"/>
<circle class="t" cx="1266.6" cy="888.3" r="2.5"/>
<circle class="t" cx="1257.4" cy="896.8" r="2.5"/>
<circle class="t" cx="1266.6" cy="896.8" r="2.5"/>
<rect class="t" x="1212.8" y="906.0" width="14.2" height="15.6" rx="2"/>
<polyline class="t" points="1208.5,923.7 1230.5,923.7"/>
<polyline class="w2" points="1205.7,880.5 1205.7,951.3"/>
<polyline class="w2" points="1208.5,880.5 1208.5,951.3"/>
<polyline class="w2" points="1200.0,951.3 1256.7,951.3 1256.7,970.5"/>
<polyline class="w2" points="1200.0,956.3 1253.2,956.3 1253.2,970.5"/>
<polyline class="w2" points="1252.4,1002.4 1252.4,1030.7"/>
<polyline class="w2" points="1256.7,1002.4 1256.7,1030.7"/>
<rect class="wf" x="1252.4" y="1000.2" width="34.1" height="2.9"/>
<polyline class="t" points="1253.2,968.4 1256.7,968.6 1260.1,969.1 1263.5,970.0 1266.7,971.3 1269.9,972.9 1272.8,974.8 1275.5,977.0 1277.9,979.4 1280.1,982.1 1282.0,985.1 1283.6,988.2 1284.9,991.4 1285.8,994.8 1286.3,998.2 1286.5,1001.7"/>
<polyline class="w2" points="1200.0,1010.2 1215.6,1010.2"/>
<polyline class="w2" points="1215.6,1010.2 1215.6,1050.0"/>
<polyline class="w2" points="1211.3,1010.2 1211.3,1050.0"/>
<polyline class="w2" points="1251.9,991.7 1251.9,1047.0"/>
<polyline class="t" points="1247.5,1011.0 1247.3,1014.3 1246.8,1017.5 1246.0,1020.7 1244.8,1023.8 1243.3,1026.8 1241.5,1029.5 1239.4,1032.1 1237.1,1034.4 1234.5,1036.5 1231.8,1038.3 1228.8,1039.8 1225.7,1041.0 1222.5,1041.8 1219.3,1042.3 1216.0,1042.5"/>
<polyline class="w2" points="1216.0,1011.0 1216.0,1042.5"/>
<polyline class="w2" points="1246.8,1010.2 1251.9,1010.2"/>
<polyline class="w2" points="1246.8,1014.4 1251.9,1014.4"/>
<polyline class="t" points="1348.1,878.3 1348.1,1034.3"/>
<polyline class="t" points="1346.0,882.6 1350.2,878.3"/>
<polyline class="t" points="1346.0,1032.8 1350.2,1028.6"/>
<text class="n" x="1341.7" y="955.6" text-anchor="middle" transform="rotate(-90 1341.7 955.6)">4220</text>
<text class="n" x="1283.6" y="925.1" text-anchor="middle">4160</text>
<text class="a" x="1223.4" y="971.2" text-anchor="middle"><tspan text-decoration="underline">12.00</tspan></text>
<text class="a" x="1317.6" y="1018.7" text-anchor="middle"><tspan text-decoration="underline">15.50</tspan></text>
<polyline class="w2" points="1252.4,1030.7 1252.4,1034.3"/>
<!-- 15_apt120_top.py -->
<polyline class="w2" points="636.6,705.5 636.6,665.8 640.2,662.9 775.2,662.9 778.8,665.8 778.8,705.5"/>
<polyline class="t" points="636.6,665.8 678.8,705.5"/>
<polyline class="t" points="678.8,665.8 636.6,705.5"/>
<polyline class="w2" points="678.8,662.9 678.8,705.5"/>
<text class="a" x="727.0" y="681.4" text-anchor="middle">3.25*0.3=<tspan text-decoration="underline">1.00</tspan></text>
<polyline class="t" points="630.6,644.1 784.8,644.1"/>
<polyline class="t" points="636.6,639.3 636.6,665.8"/>
<polyline class="t" points="778.8,639.3 778.8,665.8"/>
<polyline class="t" points="633.0,647.7 640.2,640.5"/>
<polyline class="t" points="775.2,647.7 782.4,640.5"/>
<text class="n" x="707.7" y="639.8" text-anchor="middle">3935</text>
<polyline class="t" points="819.8,620.0 819.8,705.5"/>
<!-- 16_apt120_hall.py -->
<polyline class="w" points="635.7,706.4 635.7,900.0"/>
<polyline class="w" points="635.7,706.4 678.9,706.4"/>
<polyline class="w" points="708.7,706.4 830.0,706.4"/>
<polyline class="w2" points="678.9,706.4 678.9,745.4"/>
<polyline class="w2" points="681.0,706.4 681.0,745.4"/>
<polyline class="t" points="681.0,745.3 683.9,745.1 686.7,744.7 689.5,743.9 692.2,742.9 694.8,741.6 697.2,740.0 699.5,738.2 701.5,736.2 703.3,733.9 704.9,731.5 706.2,728.9 707.2,726.2 708.0,723.4 708.4,720.6 708.6,717.7"/>
<polyline class="w2" points="708.7,706.4 708.7,726.2"/>
<polyline class="w2" points="740.6,706.4 740.6,726.2"/>
<polyline class="t" points="710.1,713.5 740.6,713.5"/>
<polyline class="t" points="710.1,717.0 740.6,717.0"/>
<polyline class="w2" points="655.5,726.2 678.9,726.2"/>
<polyline class="w2" points="708.7,726.2 806.5,726.2"/>
<polyline class="w2" points="655.5,726.2 655.5,900.0"/>
<polyline class="w2" points="806.5,726.2 806.5,853.8"/>
<polyline class="w2" points="768.2,853.8 806.5,853.8"/>
<rect class="wf" x="766.1" y="823.3" width="2.2" height="30.5"/>
<polyline class="t" points="735.6,853.8 735.8,850.5 736.3,847.3 737.1,844.2 738.3,841.1 739.8,838.2 741.6,835.5 743.6,832.9 745.9,830.6 748.5,828.6 751.2,826.8 754.1,825.3 757.2,824.1 760.3,823.3 763.5,822.8 766.8,822.6"/>
<polyline class="w2" points="655.5,853.8 734.9,853.8"/>
<polyline class="t" points="655.5,789.3 676.8,789.3 676.8,853.8"/>
<rect class="t" x="656.9" y="811.3" width="19.9" height="21.2"/>
<circle class="t" cx="661.9" cy="816.2" r="2.5"/>
<circle class="t" cx="671.8" cy="816.2" r="2.5"/>
<circle class="t" cx="661.9" cy="827.6" r="2.5"/>
<circle class="t" cx="671.8" cy="827.6" r="2.5"/>
<rect class="t" x="679.6" y="860.9" width="16.3" height="13.5" rx="2"/>
<polyline class="t" points="698.0,853.8 698.0,874.3"/>
<polyline class="w2" points="655.5,875.1 727.8,875.1"/>
<polyline class="w2" points="655.5,879.3 727.8,879.3"/>
<polyline class="w2" points="727.8,853.8 727.8,900.0"/>
<polyline class="w2" points="730.6,853.8 730.6,900.0"/>
<polyline class="t" points="648.4,753.9 812.8,753.9"/>
<polyline class="t" points="652.7,756.0 656.9,751.7"/>
<polyline class="t" points="804.3,756.0 808.6,751.7"/>
<text class="n" x="730.6" y="749.6" text-anchor="middle">4220</text>
<polyline class="t" points="715.0,719.8 715.0,875.8"/>
<polyline class="t" points="712.9,874.3 717.2,870.1"/>
<polyline class="t" points="712.9,729.1 717.2,724.8"/>
<text class="n" x="710.1" y="800.6" text-anchor="middle" transform="rotate(-90 710.1 800.6)">4180</text>
<polyline class="t" points="788.0,719.8 788.0,855.9"/>
<polyline class="t" points="785.9,729.1 790.2,724.8"/>
<polyline class="t" points="785.9,855.9 790.2,851.7"/>
<text class="n" x="783.8" y="790.7" text-anchor="middle" transform="rotate(-90 783.8 790.7)">3580</text>
<text class="a" x="696.6" y="841.7" text-anchor="middle"><tspan text-decoration="underline">16,30</tspan></text>
<polyline class="t" points="735.6,879.3 766.8,879.3"/>
<polyline class="t" points="760.4,872.9 760.4,900.0"/>
<rect class="t" x="641.3" y="786.5" width="10.0" height="5.3"/>
<rect class="t" x="641.3" y="794.0" width="10.0" height="5.4"/>
<rect class="t" x="641.3" y="801.5" width="10.0" height="5.4"/>
<rect class="t" x="641.3" y="809.0" width="10.0" height="5.4"/>
<rect class="t" x="641.3" y="816.5" width="10.0" height="5.4"/>
<rect class="t" x="641.3" y="824.0" width="10.0" height="5.4"/>
<rect class="t" x="641.3" y="831.5" width="10.0" height="5.4"/>
<rect class="t" x="641.3" y="839.1" width="10.0" height="5.3"/>
<rect class="t" x="641.3" y="846.6" width="10.0" height="5.3"/>
<rect class="t" x="641.3" y="854.1" width="10.0" height="5.4"/>
<rect class="t" x="641.3" y="861.6" width="10.0" height="5.4"/>
<rect class="t" x="641.3" y="869.1" width="10.0" height="5.4"/>
<!-- 17_apt120_bath.py -->
<rect class="t" x="659.1" y="879.9" width="68.7" height="31.2"/>
<path class="t" d="M661.9,883.5 L706.5,883.5 A8.5,10.6 0 0 1 706.5,904.7 L661.9,904.7 Z"/>
<circle cx="668.6" cy="895.8" r="1.5" fill="#333"/>
<text class="n" x="690.9" y="896.2" text-anchor="middle" font-size="12.5">2000</text>
<polyline class="w2" points="727.8,915.4 749.1,915.4"/>
<polyline class="t" points="751.9,915.4 751.8,917.6 751.4,919.8 750.9,922.0 750.1,924.1 749.0,926.0 747.8,927.9 746.4,929.7 744.9,931.2 743.1,932.6 741.2,933.8 739.3,934.9 737.2,935.7 735.0,936.2 732.8,936.6 730.6,936.7"/>
<polyline class="w2" points="655.5,950.8 729.2,950.8"/>
<polyline class="w2" points="655.5,955.0 709.4,955.0"/>
<polyline class="w2" points="713.6,955.0 757.6,955.0"/>
<polyline class="w2" points="727.8,939.5 727.8,950.8"/>
<polyline class="w2" points="730.6,939.5 730.6,955.0"/>
<rect class="wf" x="711.5" y="959.3" width="24.1" height="2.1"/>
<polyline class="t" points="735.6,960.7 735.5,963.0 735.1,965.3 734.5,967.5 733.7,969.6 732.7,971.7 731.4,973.6 729.9,975.4 728.3,977.0 726.5,978.5 724.6,979.8 722.5,980.8 720.4,981.6 718.2,982.2 715.9,982.6 713.6,982.7"/>
<polyline class="w2" points="709.4,955.0 709.4,960.7"/>
<polyline class="w2" points="713.6,955.0 713.6,960.7"/>
<polyline class="w2" points="709.4,986.2 709.4,990.5"/>
<polyline class="w2" points="713.6,986.2 713.6,990.5"/>
<polyline class="w2" points="655.5,990.5 709.4,990.5"/>
<polyline class="w2" points="713.6,990.5 747.6,990.5"/>
<polyline class="w2" points="655.5,994.7 747.6,994.7"/>
<rect class="wf" x="778.1" y="991.9" width="2.1" height="33.3"/>
<polyline class="t" points="747.6,994.7 747.8,998.0 748.3,1001.2 749.1,1004.3 750.3,1007.4 751.8,1010.3 753.6,1013.0 755.6,1015.6 757.9,1017.9 760.5,1019.9 763.2,1021.7 766.1,1023.2 769.2,1024.4 772.3,1025.2 775.5,1025.7 778.8,1025.9"/>
<polyline class="w2" points="780.2,991.2 806.5,991.2"/>
<polyline class="w2" points="780.2,994.0 806.5,994.0"/>
<polyline class="w2" points="806.5,870.0 806.5,979.1"/>
<polyline class="w2" points="806.5,982.0 830.0,982.0"/>
<polyline class="w2" points="806.5,982.0 806.5,1070.0"/>
<polyline class="t" points="760.4,875.7 760.4,991.9"/>
<polyline class="t" points="735.6,878.5 767.5,878.5"/>
<polyline class="t" points="735.6,951.5 767.5,951.5"/>
<polyline class="t" points="735.6,991.2 767.5,991.2"/>
<polyline class="t" points="758.3,880.6 762.5,876.4"/>
<polyline class="t" points="758.3,953.6 762.5,949.4"/>
<polyline class="t" points="758.3,993.3 762.5,989.1"/>
<text class="n" x="754.7" y="914.6" text-anchor="middle" transform="rotate(-90 754.7 914.6)">2000</text>
<text class="n" x="755.4" y="972.8" text-anchor="middle" transform="rotate(-90 755.4 972.8)">1000</text>
<polyline class="t" points="788.0,870.0 788.0,990.5"/>
<polyline class="t" points="785.9,992.6 790.2,988.4"/>
<text class="n" x="783.1" y="924.6" text-anchor="middle" transform="rotate(-90 783.1 924.6)">3720</text>
<polyline class="t" points="649.8,1019.5 812.8,1019.5"/>
<polyline class="t" points="653.4,1021.7 657.6,1017.4"/>
<polyline class="t" points="679.6,1021.7 683.9,1017.4"/>
<polyline class="t" points="710.1,1021.7 714.3,1017.4"/>
<polyline class="t" points="728.5,1021.7 732.8,1017.4"/>
<polyline class="t" points="804.3,1021.7 808.6,1017.4"/>
<text class="n" x="681.7" y="1016.0" text-anchor="middle">1500</text>
<text class="n" x="759.0" y="1016.0" text-anchor="middle">2600</text>
<polyline class="t" points="681.7,991.9 681.7,1070.0"/>
<polyline class="t" points="730.6,991.9 730.6,1070.0"/>
<polyline class="w2" points="709.4,999.7 709.4,1020.2"/>
<polyline class="w2" points="713.6,999.7 713.6,1020.2"/>
<polyline class="t" points="649.8,1067.0 812.8,1067.0"/>
<text class="n" x="730.6" y="1062.8" text-anchor="middle">4220</text>
<text class="a" x="702.3" y="936.6" text-anchor="middle"><tspan text-decoration="underline">4,00</tspan></text>
<text class="a" x="690.9" y="967.8" text-anchor="middle"><tspan text-decoration="underline">1,50</tspan></text>
<ellipse class="t" cx="669.0" cy="974.9" rx="8.5" ry="5.0"/>
<rect class="t" x="656.9" y="969.2" width="5.7" height="10.7"/>
<rect class="t" x="678.9" y="977.7" width="14.2" height="12.0" rx="2"/>
<rect class="t" x="656.9" y="912.5" width="12.0" height="14.2" rx="2"/>
<polyline class="t" points="656.9,930.9 673.9,930.9 673.9,949.4"/>
<rect class="t" x="645.6" y="907.6" width="5.7" height="4.9"/>
<rect class="t" x="645.6" y="945.1" width="5.7" height="5.0"/>
<rect class="t" x="645.6" y="958.6" width="5.7" height="5.0"/>
<rect class="t" x="645.6" y="985.5" width="5.7" height="5.0"/>
<rect class="t" x="645.6" y="994.7" width="5.7" height="5.0"/>
<rect class="t" x="646.3" y="915.4" width="5.0" height="25.5"/>
<rect class="t" x="646.3" y="967.8" width="5.0" height="14.2"/>
<polyline class="w" points="635.7,870.0 635.7,1070.0"/>
<!-- 18_apt120_low.py -->
<polyline class="w" points="635.8,930.0 635.8,1227.7"/>
<path class="w" d="M635.8,1227.7 Q730.8,1259.9 825.6,1227.7"/>
<path class="t" d="M654.4,1212.8 Q730.8,1237.6 807.0,1212.8"/>
<polyline class="w2" points="654.4,930.0 654.4,1212.8"/>
<polyline class="w2" points="807.0,930.0 807.0,1212.8"/>
<path class="t" d="M684.2,1235.1 Q730.8,1250.0 778.4,1235.1"/>
<path class="t" d="M684.2,1240.1 Q730.8,1254.9 778.4,1240.1"/>
<polyline class="t" points="682.9,1221.5 684.2,1238.8"/>
<polyline class="t" points="776.0,1221.5 778.4,1238.8"/>
<polyline class="t" points="681.7,1016.8 681.7,1219.0"/>
<polyline class="t" points="731.3,992.0 731.3,1231.4"/>
<polyline class="t" points="649.5,1066.4 810.7,1066.4"/>
<polyline class="t" points="650.7,1070.1 658.1,1062.7"/>
<polyline class="t" points="802.0,1070.1 809.4,1062.7"/>
<text class="n" x="676.7" y="1103.6" text-anchor="middle" transform="rotate(-90 676.7 1103.6)">6130</text>
<text class="n" x="726.8" y="1109.8" text-anchor="middle" transform="rotate(-90 726.8 1109.8)">6450</text>
<text class="a" x="737.5" y="1104.9" text-anchor="middle" font-size="15">2Б</text>
<rect class="t" x="752.4" y="1080.1" width="33.5" height="40.9"/>
<polyline class="t" points="752.4,1093.7 785.9,1093.7"/>
<polyline class="t" points="752.4,1107.4 785.9,1107.4"/>
<text class="bx" x="769.8" y="1090.0" text-anchor="middle" font-size="9">44.90</text>
<text class="bx" x="769.8" y="1103.6" text-anchor="middle" font-size="9">75.00</text>
<text class="bx" x="769.8" y="1117.3" text-anchor="middle" font-size="9">77.10</text>
<text class="a" x="753.6" y="1212.8" text-anchor="middle"><tspan text-decoration="underline">26,80</tspan></text>
<polyline class="t" points="674.3,1212.8 689.1,1212.8"/>
<polyline class="t" points="678.0,1216.5 685.4,1209.1"/>
<polyline class="w2" points="823.1,975.9 823.1,1160.7 842.9,1160.7"/>
<polyline class="w2" points="903.7,1160.7 932.2,1160.7"/>
<polyline class="w2" points="932.2,944.9 932.2,1226.4"/>
<polyline class="t" points="842.9,1160.7 842.9,1179.3"/>
<polyline class="t" points="875.2,1160.7 875.2,1179.3"/>
<polyline class="t" points="842.9,1166.9 875.2,1166.9"/>
<polyline class="t" points="842.9,1173.1 875.2,1173.1"/>
<rect class="wf" x="901.2" y="1140.8" width="3.0" height="38.5"/>
<polyline class="t" points="902.5,1150.8 899.5,1151.0 896.6,1151.4 893.7,1152.2 890.9,1153.3 888.2,1154.6 885.7,1156.2 883.4,1158.1 881.3,1160.2 879.4,1162.5 877.8,1165.0 876.5,1167.7 875.4,1170.5 874.6,1173.4 874.2,1176.3 874.0,1179.3"/>
<polyline class="w2" points="825.6,1179.3 875.2,1179.3"/>
<polyline class="w2" points="902.5,1179.3 929.8,1179.3"/>
<polyline class="w2" points="825.6,1179.3 825.6,1226.4 929.8,1226.4 929.8,1179.3"/>
<polyline class="t" points="855.3,944.9 855.3,1237.6"/>
<polyline class="t" points="851.6,1183.0 859.1,1175.6"/>
<polyline class="t" points="851.6,1230.1 859.1,1222.7"/>
<text class="n" x="851.6" y="1197.9" text-anchor="middle" transform="rotate(-90 851.6 1197.9)">1250</text>
<text class="a" x="885.6" y="1220.2" text-anchor="middle">3.60*0.3=<tspan text-decoration="underline">1.10</tspan></text>
<polyline class="t" points="824.3,1227.7 824.3,1267.3"/>
<polyline class="t" points="929.8,1227.7 929.8,1267.3"/>
<polyline class="t" points="819.4,1259.9 937.2,1259.9"/>
<polyline class="t" points="820.6,1263.6 828.1,1256.2"/>
<polyline class="t" points="926.0,1263.6 933.5,1256.2"/>
<text class="n" x="877.7" y="1253.0" text-anchor="middle">2885</text>
<text class="a" x="855.3" y="1149.5" text-anchor="middle"><tspan text-decoration="underline">18,10</tspan></text>
<text class="n" x="849.1" y="1054.0" text-anchor="middle" transform="rotate(-90 849.1 1054.0)">6050</text>
<text class="n" x="877.7" y="1062.0" text-anchor="middle">3000</text>
<polyline class="t" points="818.1,1066.4 934.7,1066.4"/>
<polyline class="t" points="819.4,1070.1 826.8,1062.7"/>
<polyline class="t" points="927.3,1070.1 934.7,1062.7"/>
<polyline class="t" points="908.7,939.9 908.7,1011.9"/>
<polyline class="t" points="902.5,1009.4 934.7,1009.4"/>
<polyline class="t" points="904.9,1013.1 912.4,1005.7"/>
<!-- 19_pink_low.py -->
<polyline class="w2" points="930.6,1000.0 930.6,1160.9"/>
<polyline class="w2" points="920.0,1160.9 930.6,1160.9"/>
<polyline class="w2" points="944.1,1009.9 944.1,1160.9"/>
<polyline class="w2" points="944.1,1009.9 1013.6,1009.9"/>
<polyline class="w2" points="944.1,1014.2 1013.6,1014.2"/>
<polyline class="t" points="1045.4,1044.7 1042.1,1044.5 1038.9,1044.0 1035.8,1043.2 1032.7,1042.0 1029.8,1040.5 1027.1,1038.7 1024.5,1036.7 1022.2,1034.4 1020.2,1031.8 1018.4,1029.1 1016.9,1026.2 1015.7,1023.1 1014.9,1020.0 1014.4,1016.8 1014.2,1013.5"/>
<rect class="wf" x="1044.5" y="1009.9" width="2.4" height="33.3"/>
<polyline class="w2" points="1050.4,1009.9 1050.4,1160.9"/>
<polyline class="w2" points="1055.4,1014.2 1055.4,1200.0"/>
<polyline class="w2" points="1046.9,1009.9 1070.2,1009.9"/>
<polyline class="w2" points="1055.4,1014.2 1070.2,1014.2"/>
<rect class="wf" x="1068.8" y="1011.3" width="2.2" height="31.9"/>
<polyline class="t" points="1100.7,1009.9 1100.5,1013.1 1100.0,1016.2 1099.2,1019.3 1098.1,1022.3 1096.6,1025.1 1094.9,1027.8 1092.9,1030.3 1090.6,1032.6 1088.1,1034.6 1085.5,1036.3 1082.6,1037.8 1079.6,1038.9 1076.5,1039.7 1073.4,1040.2 1070.2,1040.4"/>
<polyline class="w2" points="1100.7,1009.9 1120.0,1009.9"/>
<polyline class="w2" points="1100.7,1014.2 1120.0,1014.2"/>
<polyline class="w2" points="944.1,1160.9 958.3,1160.9"/>
<polyline class="w2" points="985.2,1160.9 1055.4,1160.9"/>
<rect class="wf" x="958.0" y="1141.0" width="2.1" height="39.7"/>
<polyline class="t" points="960.1,1140.3 962.3,1140.4 964.5,1140.8 966.7,1141.3 968.8,1142.1 970.8,1143.2 972.6,1144.4 974.4,1145.8 975.9,1147.3 977.3,1149.1 978.5,1150.9 979.6,1152.9 980.4,1155.0 980.9,1157.2 981.3,1159.4 981.4,1161.6"/>
<polyline class="w2" points="985.2,1160.9 985.2,1180.0"/>
<polyline class="w2" points="1018.5,1160.9 1018.5,1180.0"/>
<polyline class="t" points="985.2,1170.1 1018.5,1170.1"/>
<polyline class="t" points="985.2,1173.6 1018.5,1173.6"/>
<polyline class="t" points="985.2,1177.2 1018.5,1177.2"/>
<polyline class="w2" points="933.5,1179.3 958.3,1179.3"/>
<polyline class="w2" points="985.2,1179.3 1037.6,1179.3"/>
<polyline class="w2" points="1037.6,1179.3 1037.6,1200.0"/>
<polyline class="w2" points="933.5,1179.3 933.5,1200.0"/>
<polyline class="t" points="928.5,1066.3 1120.0,1066.3"/>
<polyline class="t" points="928.5,1068.5 932.8,1064.2"/>
<polyline class="t" points="942.0,1068.5 946.2,1064.2"/>
<polyline class="t" points="1050.4,1068.5 1054.7,1064.2"/>
<text class="n" x="998.0" y="1063.1" text-anchor="middle">3000</text>
<polyline class="t" points="971.0,1009.9 971.0,1164.4"/>
<polyline class="t" points="968.9,1163.0 973.2,1158.8"/>
<polyline class="t" points="968.9,1012.0 973.2,1007.8"/>
<text class="n" x="965.4" y="1087.2" text-anchor="middle" transform="rotate(-90 965.4 1087.2)">4130</text>
<text class="a" x="1015.7" y="1148.1" text-anchor="middle"><tspan text-decoration="underline">12,40</tspan></text>
<!-- 20_pink_2460.py -->
<polyline class="w2" points="1050.6,1040.0 1050.6,1161.2"/>
<polyline class="w2" points="1055.6,1040.0 1055.6,1212.9"/>
<polyline class="w2" points="1040.0,1161.2 1050.6,1161.2"/>
<polyline class="w2" points="1205.8,1040.0 1205.8,1180.3"/>
<polyline class="w2" points="1210.1,1040.0 1210.1,1212.9"/>
<polyline class="w2" points="1208.0,1180.3 1235.6,1180.3"/>
<path class="t" d="M1055.6,1212.9 Q1130.7,1235.6 1210.1,1212.9"/>
<path class="w" d="M1025.8,1224.3 Q1130.7,1255.5 1224.3,1225.7"/>
<path class="t" d="M1085.4,1234.2 Q1130.7,1244.1 1177.5,1234.2"/>
<path class="t" d="M1085.4,1237.7 Q1130.7,1247.7 1177.5,1237.7"/>
<polyline class="t" points="1085.4,1222.1 1085.4,1238.4"/>
<polyline class="t" points="1177.5,1222.1 1177.5,1238.4"/>
<polyline class="t" points="1040.0,1066.2 1214.3,1066.2"/>
<polyline class="t" points="1048.5,1068.3 1052.8,1064.1"/>
<polyline class="t" points="1203.7,1068.3 1208.0,1064.1"/>
<text class="n" x="1131.4" y="1062.7" text-anchor="middle">4220</text>
<polyline class="t" points="1131.4,1040.0 1131.4,1229.9"/>
<text class="n" x="1126.5" y="1119.4" text-anchor="middle" transform="rotate(-90 1126.5 1119.4)">5930</text>
<polyline class="t" points="1181.0,1040.0 1181.0,1213.6"/>
<text class="n" x="1175.4" y="1113.0" text-anchor="middle" transform="rotate(-90 1175.4 1113.0)">5610</text>
<polyline class="t" points="1178.9,1215.1 1183.2,1210.8"/>
<polyline class="t" points="1174.7,1213.6 1201.6,1213.6"/>
<text class="a" x="1154.8" y="1209.4" text-anchor="middle"><tspan text-decoration="underline">24.60</tspan></text>
<!-- 21_pink_right.py -->
<polyline class="w" points="1372.3,1049.5 1343.7,1049.5 1343.7,1237.4"/>
<polyline class="w2" points="1251.6,1020.0 1251.6,1044.9 1325.3,1044.9 1325.3,1180.3 1300.4,1180.3"/>
<polyline class="w2" points="1208.3,1180.3 1240.5,1180.3"/>
<rect class="wf" x="1240.5" y="1161.0" width="2.2" height="38.7"/>
<polyline class="t" points="1242.4,1159.2 1244.8,1159.3 1247.2,1159.7 1249.5,1160.3 1251.8,1161.2 1253.9,1162.3 1255.9,1163.6 1257.8,1165.1 1259.5,1166.8 1261.0,1168.7 1262.3,1170.7 1263.4,1172.8 1264.3,1175.1 1264.9,1177.4 1265.3,1179.8 1265.4,1182.2"/>
<polyline class="w2" points="1268.2,1180.3 1268.2,1199.7"/>
<polyline class="w2" points="1300.4,1180.3 1300.4,1199.7"/>
<polyline class="t" points="1268.2,1188.6 1300.4,1188.6"/>
<polyline class="t" points="1268.2,1193.2 1300.4,1193.2"/>
<polyline class="w2" points="1224.0,1199.7 1240.5,1199.7"/>
<polyline class="w2" points="1268.2,1199.7 1343.7,1199.7"/>
<polyline class="w2" points="1224.0,1199.7 1224.0,1230.1 1237.8,1244.8 1334.5,1244.8 1343.7,1237.4"/>
<polyline class="t" points="1300.4,1199.7 1300.4,1244.8"/>
<polyline class="t" points="1300.4,1199.7 1343.7,1244.8"/>
<polyline class="t" points="1343.7,1199.7 1300.4,1244.8"/>
<polyline class="w" points="1200.0,1233.7 1224.0,1228.2"/>
<text class="a" x="1275.5" y="1227.3" text-anchor="middle">2.50*0.3=<tspan text-decoration="underline">0.75</tspan></text>
<polyline class="t" points="1366.8,1195.1 1366.8,1248.5"/>
<polyline class="t" points="1343.7,1199.7 1371.4,1199.7"/>
<polyline class="t" points="1343.7,1244.8 1371.4,1244.8"/>
<polyline class="t" points="1364.0,1202.4 1369.5,1196.9"/>
<polyline class="t" points="1364.0,1247.6 1369.5,1242.0"/>
<text class="n" x="1363.1" y="1222.7" text-anchor="middle" transform="rotate(-90 1363.1 1222.7)">1250</text>
<polyline class="t" points="1220.3,1265.1 1349.3,1265.1"/>
<polyline class="t" points="1224.9,1230.1 1224.9,1272.4"/>
<polyline class="t" points="1343.7,1245.7 1343.7,1272.4"/>
<polyline class="t" points="1222.1,1267.8 1227.6,1262.3"/>
<polyline class="t" points="1341.0,1267.8 1346.5,1262.3"/>
<text class="n" x="1284.8" y="1261.8" text-anchor="middle">3280</text>
<polyline class="t" points="1234.1,1042.1 1234.1,1182.2"/>
<polyline class="t" points="1231.3,1184.9 1236.9,1179.4"/>
<text class="n" x="1227.3" y="1113.1" text-anchor="middle" transform="rotate(-90 1227.3 1113.1)">3815</text>
<text class="a" x="1248.8" y="1106.6" text-anchor="middle" font-size="15">3A</text>
<rect class="t" x="1264.5" y="1082.7" width="33.2" height="42.3"/>
<polyline class="t" points="1264.5,1095.5 1297.7,1095.5"/>
<polyline class="t" points="1264.5,1110.3 1297.7,1110.3"/>
<text class="bx" x="1281.1" y="1092.8" text-anchor="middle" font-size="9">50.25</text>
<text class="bx" x="1281.1" y="1107.2" text-anchor="middle" font-size="9">85.95</text>
<text class="bx" x="1281.1" y="1121.9" text-anchor="middle" font-size="9">87.80</text>
<text class="a" x="1290.3" y="1147.1" text-anchor="middle"><tspan text-decoration="underline">13.25</tspan></text>
<polyline class="t" points="1200.0,1067.0 1330.8,1067.0"/>
<polyline class="t" points="1322.5,1069.8 1328.1,1064.2"/>
<line class="t" x1="1216" y1="1044.3" x2="1252" y2="1044.3"/>
<!-- 22_left_strip.py -->
<polyline class="t" points="587.8,634.0 587.8,776.7 580.3,780.0 595.7,783.7 587.8,784.6 587.8,1249.1"/>
<polyline class="t" points="588.7,652.7 621.5,652.7 621.5,1200.0 605.1,1239.8 587.8,1239.8"/>
<rect class="t" x="587.8" y="671.5" width="15.9" height="257.2"/>
<rect class="t" x="587.8" y="942.7" width="15.9" height="95.9"/>
<rect class="t" x="587.8" y="1052.7" width="15.9" height="114.6"/>
<polyline class="t" points="587.8,881.9 603.7,881.9"/>
<polyline class="t" points="587.8,886.6 603.7,886.6"/>
<polyline class="t" points="587.8,977.8 603.7,977.8"/>
<polyline class="t" points="587.8,982.5 603.7,982.5"/>
<polyline class="t" points="587.8,1055.0 603.7,1055.0"/>
<polyline class="t" points="587.8,1059.7 603.7,1059.7"/>
<polyline class="t" points="587.8,1200.0 621.5,1200.0"/>
<!-- 23_pink_balc.py -->
<polyline class="w2" points="928.8,1179.7 928.8,1226.3"/>
<polyline class="w2" points="933.2,1179.7 933.2,1226.3"/>
<polyline class="w2" points="933.2,1179.7 959.0,1179.7 959.0,1141.5"/>
<polyline class="t" points="959.5,1141.5 962.2,1141.6 965.0,1142.1 967.6,1142.8 970.2,1143.8 972.6,1145.0 975.0,1146.5 977.1,1148.3 979.0,1150.2 980.8,1152.3 982.3,1154.6 983.5,1157.1 984.5,1159.7 985.2,1162.3 985.7,1165.1 985.8,1167.8"/>
<polyline class="t" points="985.8,1161.3 985.8,1179.7"/>
<polyline class="t" points="1018.6,1161.3 1018.6,1179.7"/>
<polyline class="t" points="985.8,1169.8 1018.6,1169.8"/>
<polyline class="t" points="985.8,1172.7 1018.6,1172.7"/>
<polyline class="t" points="985.8,1175.2 1018.6,1175.2"/>
<polyline class="w" points="985.8,1179.9 1036.9,1179.9 1036.9,1226.1 928.8,1226.1"/>
<polyline class="t" points="900.0,1258.6 1042.9,1258.6"/>
<polyline class="t" points="925.8,1261.5 931.8,1255.6"/>
<polyline class="t" points="930.3,1261.5 936.2,1255.6"/>
<polyline class="t" points="1033.0,1261.5 1038.9,1255.6"/>
<polyline class="t" points="928.8,1227.3 928.8,1266.0"/>
<polyline class="t" points="933.2,1227.3 933.2,1266.0"/>
<polyline class="t" points="1035.9,1227.3 1035.9,1266.0"/>
<text class="n" x="984.3" y="1255.1" text-anchor="middle">2885</text>
<text class="a" x="983.3" y="1205.5" text-anchor="middle">3.60*0.3=<tspan text-decoration="underline">1.10</tspan></text>
<!-- 95_fills.py -->
<g style="mix-blend-mode:multiply">
<path class="bl" d="M816,333 L825,323 L862,323 L862,424.4 L826.6,424.4 L816,412.3 Z"/>
<path class="bl" d="M862,378 L880.5,378 Q897,385 901,407.4 L862,407.4 Z"/>
<path class="bl" d="M880.8,308.6 L1072.5,308.6 L1072.5,384 L1090,384 L1090,308.6 L1304.3,308.6 L1304.3,425 L1151,425 L1151,443 L1357.6,443 Q1379,518 1357.6,593.7 L1086.2,593.7 L1086.2,428.6 L880.8,428.6 Z"/>
<path class="bl" d="M1285.6,352.8 L1323.2,352.8 L1323.2,381 L1304.7,381 Q1290,375 1285.6,352.8 Z"/>
<path class="bl" d="M1323.2,309 L1370.7,309 L1370.7,423.7 L1323.2,423.7 Z"/>
<path class="gr" d="M1085.6,612.8 L1305,612.8 L1305,862.1 L1085.6,862.1 Z"/>
<path class="gr" d="M1285.5,790 L1323.6,790 L1323.6,817.5 L1305,817.5 Q1290,810 1285.5,790 Z"/>
<path class="gr" d="M1323.6,747 L1361.2,747 L1370.6,757.2 L1370.6,861.3 L1323.6,861.3 Z"/>
<path class="pk" d="M1086,880.5 L1358,880.5 Q1378,956 1358,1030.7 L1256.7,1030.7 L1256.7,1045 L1325.3,1045 L1325.3,1180.4 L1210,1180.4 L1210,1213 Q1131,1236 1055.6,1213 L1055.6,1161.2 L944.1,1161.2 L944.1,944.8 L1086,944.8 Z"/>
<path class="pk" d="M1241,1178 L1268.2,1178 L1268.2,1201 L1241,1201 Z"/>
<path class="pk" d="M1224,1199.7 L1343.8,1199.7 L1343.8,1237.5 L1334.6,1244.9 L1237.8,1244.9 L1224,1230 Z"/>
<path class="pk" d="M959.5,1159 L985.8,1159 L985.8,1181 L959.5,1181 Z"/>
<path class="pk" d="M933.2,1179.7 L1037.4,1179.7 L1037.4,1226.3 L933.2,1226.3 Z"/>
<path class="bl" d="M636.6,669 L642,663 L773,663 L778.8,669 L778.8,705.5 L636.6,705.5 Z"/>
<path class="bl" d="M679,704 L708.7,704 L708.7,728 L679,728 Z"/>
<path class="bl" d="M655.5,726.2 L806.5,726.2 L806.5,1213 Q731,1237.6 654.4,1213 Z"/>
<path class="bl" d="M805,950 L848.6,950 Q845,975 823.8,981.7 L805,981.7 Z"/>
<path class="bl" d="M823.8,945 L932.2,945 L932.2,1160.8 L823.8,1160.8 Z"/>
<path class="bl" d="M875,1159 L903.8,1159 L903.8,1181 L875,1181 Z"/>
<path class="bl" d="M825.7,1179.4 L929.9,1179.4 L929.9,1226.5 L825.7,1226.5 Z"/>
</g>
<!-- 97_labels.py -->
<text class="kv" x="1229.3" y="590.0" text-anchor="middle">Кв №117</text>
<text class="kv" x="1199.7" y="704.9" text-anchor="middle">Кв №118</text>
<text class="kv" x="1269.1" y="1075.3" text-anchor="middle">Кв №119</text>
<text class="kv" x="746.8" y="1149.6" text-anchor="middle">Кв №120</text>
<text class="a" x="1277.3" y="705.5" text-anchor="middle"><tspan text-decoration="underline">18.40</tspan></text>
<!-- 99_watermark.py -->
<g opacity="0.55">
<text x="882" y="927" font-family="Liberation Serif" font-size="47" fill="#fff" stroke="#d8d8d8" stroke-width="0.6" textLength="215" lengthAdjust="spacingAndGlyphs">PREMIER</text>
<text x="882" y="960" font-family="Liberation Serif" font-size="17" fill="#fff" stroke="#e0e0e0" stroke-width="0.4" textLength="182" lengthAdjust="spacingAndGlyphs">НЕДВИЖИМОСТЬ</text>
</g>
</svg>
</body></html>
